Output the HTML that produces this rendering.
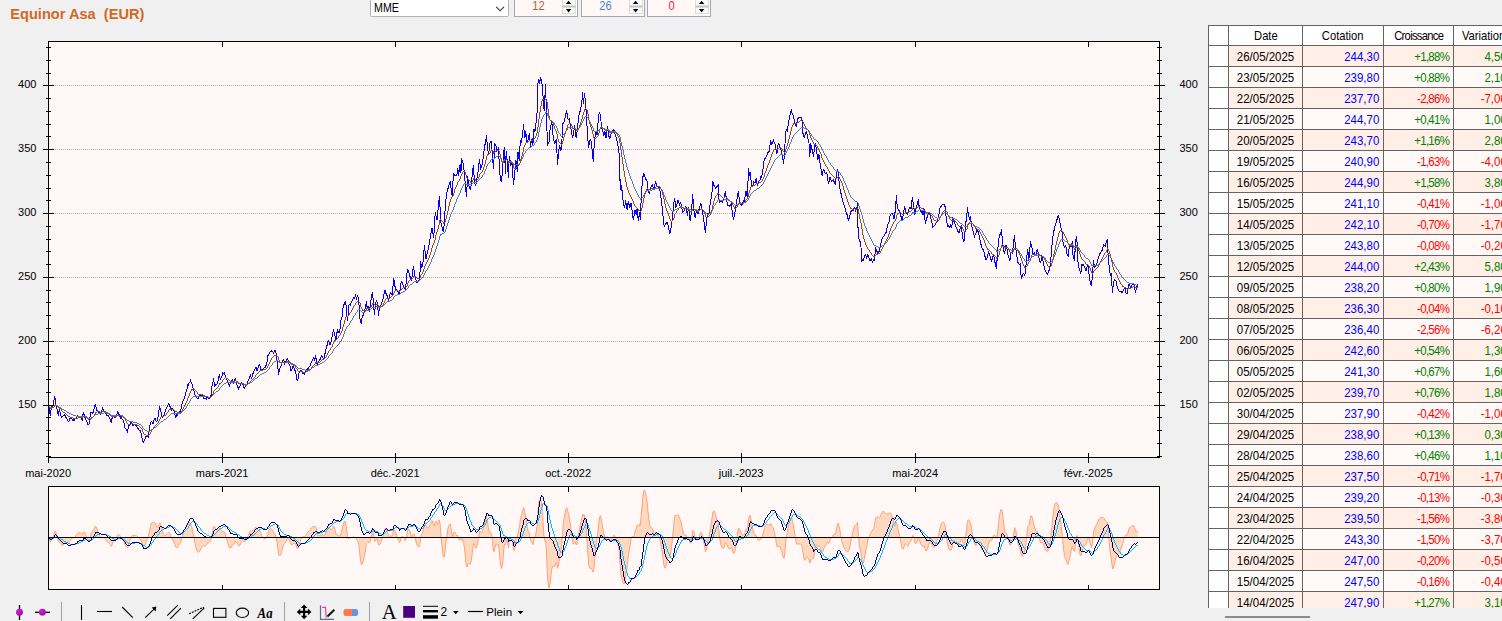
<!DOCTYPE html>
<html><head><meta charset="utf-8"><title>Equinor Asa</title>
<style>
html,body{margin:0;padding:0}
body{width:1502px;height:621px;overflow:hidden;background:#F0F0F0;position:relative;font-family:"Liberation Sans",sans-serif;font-size:12px;color:#000}
#title{position:absolute;left:10.3px;top:6.2px;font-weight:bold;font-size:14.6px;color:#D2691E;white-space:pre;line-height:16px}
#combo{position:absolute;left:370px;top:-4px;width:139px;height:21px;border-radius:1.5px;background:#fff;border:1px solid #B4B4B4;box-sizing:border-box}
#combo span{position:absolute;left:2.5px;top:3.5px;line-height:14px;font-size:12.4px;transform:scaleX(0.86);transform-origin:left center}
.spin{position:absolute;top:-5px;width:64px;height:22px;box-sizing:border-box;border:1px solid #A3A7B4;background:#FFF8F6}
.spin .val{position:absolute;left:0;top:3px;width:47px;text-align:center;font-size:13px;line-height:14px;transform:scaleX(0.86)}
.spin .btn{position:absolute;left:47px;width:13.5px;background:#FAFAFA;border:1px solid #DCDCDC;box-sizing:border-box}
.spin .bar{position:absolute;left:47px;width:13.5px;top:10px;height:1.3px;background:#C6C6C6}
#grid{position:absolute;left:1208px;top:25px;width:294px;height:583px;overflow:hidden;border-left:1px solid #646464;border-top:1px solid #646464;box-sizing:border-box;background:#fff}
.r{display:flex;height:21px;width:320px}
.c{box-sizing:border-box;height:21px;border-right:1px solid #646464;border-bottom:1px solid #646464;font-size:12.2px;line-height:14px;padding-top:3.5px;white-space:nowrap;overflow:hidden}
.c span{display:inline-block;transform:scaleX(0.94);transform-origin:center}
.q span,.g span,.v span{transform-origin:right center}
.h .c span{transform-origin:center;transform:scaleX(0.92)}
.h .c{background:#fff;text-align:center;height:20px;padding-top:2.5px}
.r.h{height:20px}
.rh{width:20px;background:#fff !important}
.d{width:74px;text-align:center}
.q{width:81px;text-align:right;padding-right:4px;color:#0000FF}
.g{width:70px;text-align:right;padding-right:4px;letter-spacing:-0.75px}
.v{width:61px;text-align:right;padding-right:7.5px}
.h .c.hc{text-align:center;padding-right:0;color:#000}
.o .c{background:#FFEFE7}
.e .c{background:#FFFAF8}
.gr{color:#008000}.rd{color:#FF0000}
#hsb{position:absolute;left:1225px;top:616px;width:85px;height:2px;background:#8B8B8B}
</style></head><body>
<svg width="1502" height="621" viewBox="0 0 1502 621" style="position:absolute;left:0;top:0">
<rect x="48.5" y="41.5" width="1111.0" height="416.0" fill="#FFF8F6"/>
<rect x="48.5" y="486.5" width="1111.0" height="103.0" fill="#FFF8F6"/>
<line x1="55" y1="85.5" x2="1152" y2="85.5" stroke="#A8A8A8" stroke-width="1" stroke-dasharray="1 1"/>
<line x1="55" y1="149.5" x2="1152" y2="149.5" stroke="#A8A8A8" stroke-width="1" stroke-dasharray="1 1"/>
<line x1="55" y1="213.5" x2="1152" y2="213.5" stroke="#A8A8A8" stroke-width="1" stroke-dasharray="1 1"/>
<line x1="55" y1="277.5" x2="1152" y2="277.5" stroke="#A8A8A8" stroke-width="1" stroke-dasharray="1 1"/>
<line x1="55" y1="341.5" x2="1152" y2="341.5" stroke="#A8A8A8" stroke-width="1" stroke-dasharray="1 1"/>
<line x1="55" y1="405.5" x2="1152" y2="405.5" stroke="#A8A8A8" stroke-width="1" stroke-dasharray="1 1"/>
<clipPath id="c1"><rect x="48.5" y="41.5" width="1111.0" height="416.0"/></clipPath>
<g clip-path="url(#c1)" fill="none" stroke-linejoin="miter" stroke-miterlimit="3" shape-rendering="crispEdges">
<path d="M48.8,406.5 L49.6,412.3 L50.4,415.5 L51.3,407.1 L52.0,406.5 L52.6,405.9 L53.3,405.9 L54.4,396.3 L55.1,398.3 L55.8,404.2 L56.9,408.2 L57.6,411.8 L58.4,415.5 L59.2,409.3 L59.9,411.7 L60.7,414.2 L61.4,417.2 L62.2,416.7 L62.9,416.0 L63.7,415.0 L64.4,414.9 L65.2,415.8 L65.9,417.2 L66.7,418.2 L67.4,420.4 L68.2,421.2 L69.0,420.9 L69.9,418.8 L70.7,418.2 L71.6,418.3 L72.3,419.5 L73.0,420.6 L73.7,420.0 L74.4,420.6 L75.2,418.8 L76.1,418.9 L76.9,416.6 L77.8,415.5 L78.5,416.5 L79.2,417.5 L79.9,417.3 L80.6,417.2 L81.4,418.7 L82.3,420.0 L83.4,411.6 L84.3,415.5 L85.1,418.3 L85.8,419.4 L86.5,421.3 L87.2,422.6 L87.9,424.5 L89.0,424.0 L89.9,418.2 L90.7,412.7 L91.5,412.5 L92.2,412.9 L93.0,413.3 L93.7,410.0 L94.5,407.3 L95.3,404.2 L96.1,407.4 L96.9,410.4 L97.6,411.2 L98.4,412.6 L99.1,411.0 L99.8,412.7 L100.6,414.2 L101.5,413.8 L102.4,407.6 L103.0,409.4 L103.7,411.6 L104.5,411.4 L105.3,413.0 L106.1,414.0 L106.9,415.5 L107.7,415.5 L108.4,415.7 L109.2,417.6 L109.9,418.3 L110.6,421.0 L111.3,423.4 L112.0,418.5 L112.7,416.1 L113.5,415.8 L114.2,417.7 L115.0,417.8 L115.7,416.7 L116.4,415.5 L117.1,413.5 L117.8,411.6 L118.6,413.6 L119.3,415.0 L120.1,416.6 L120.8,418.4 L121.5,417.7 L122.2,419.1 L122.9,420.0 L123.6,422.6 L124.3,423.4 L125.0,427.8 L125.7,429.0 L126.5,429.6 L127.4,431.3 L128.2,427.9 L129.1,424.5 L129.8,425.4 L130.6,422.4 L131.3,422.3 L132.1,423.0 L132.8,425.7 L133.6,425.7 L134.3,424.7 L135.1,425.0 L135.8,425.1 L136.6,426.6 L137.3,427.7 L138.1,428.5 L138.8,429.7 L139.6,430.3 L140.4,430.7 L141.5,435.3 L142.6,442.0 L143.5,442.2 L144.3,440.3 L145.1,439.1 L146.0,436.4 L146.7,437.0 L147.5,436.2 L148.2,436.9 L149.1,430.5 L149.9,425.1 L150.8,422.0 L151.6,421.7 L152.5,423.1 L153.3,423.4 L154.2,419.5 L155.0,418.3 L155.9,420.7 L156.7,421.7 L157.5,419.7 L158.4,415.0 L159.5,406.5 L160.4,408.8 L161.2,412.7 L162.3,417.2 L163.2,415.6 L164.0,415.0 L164.7,412.6 L165.4,411.6 L166.1,408.4 L166.8,407.1 L167.7,405.3 L168.5,403.7 L169.3,404.8 L170.0,406.5 L170.8,408.2 L171.5,409.6 L172.2,408.3 L172.9,409.5 L173.6,409.9 L174.4,412.5 L175.1,415.4 L175.9,417.2 L176.6,414.8 L177.4,415.0 L178.1,412.7 L178.9,412.5 L179.6,412.2 L180.4,411.0 L181.1,408.4 L181.8,404.4 L182.5,402.5 L183.2,400.3 L184.0,399.0 L184.7,396.6 L185.5,394.7 L186.2,391.2 L187.0,389.2 L187.7,384.5 L188.4,385.2 L189.1,382.5 L189.8,383.0 L190.5,380.6 L191.7,383.0 L192.5,384.9 L193.4,389.8 L194.2,391.0 L195.1,395.4 L195.8,396.9 L196.5,396.9 L197.2,398.4 L197.9,398.8 L198.7,397.8 L199.6,396.0 L200.3,395.5 L201.1,395.7 L201.8,394.8 L202.6,396.3 L203.3,396.3 L204.1,398.8 L204.8,398.7 L205.5,398.4 L206.2,399.3 L206.9,397.7 L207.7,397.2 L208.4,398.4 L209.2,398.8 L209.9,397.1 L210.7,396.1 L211.4,394.8 L212.0,386.4 L212.7,383.7 L213.5,378.5 L214.1,382.4 L214.8,385.8 L215.6,384.9 L216.3,384.8 L217.1,384.1 L217.9,381.5 L218.7,377.0 L219.5,374.5 L220.4,380.2 L221.2,377.5 L221.9,376.4 L222.7,372.8 L223.5,373.4 L224.4,372.6 L225.2,375.5 L226.1,378.5 L226.8,379.6 L227.6,381.4 L228.3,383.0 L229.5,386.4 L230.2,383.5 L230.9,383.7 L231.6,381.6 L232.3,379.6 L233.4,383.0 L234.3,380.8 L235.1,378.5 L235.9,380.3 L236.8,384.1 L237.6,386.1 L238.5,389.2 L239.2,387.9 L239.9,386.0 L240.6,383.8 L241.3,382.4 L242.1,384.2 L243.0,385.3 L243.8,387.4 L244.7,388.1 L245.4,386.4 L246.1,385.4 L246.8,384.0 L247.5,383.6 L248.2,380.4 L248.9,379.6 L249.6,377.2 L250.3,374.5 L251.5,378.5 L252.2,376.7 L253.0,373.5 L253.7,372.3 L254.5,369.8 L255.2,368.8 L256.0,367.2 L257.1,371.2 L257.8,368.6 L258.6,366.7 L259.3,364.4 L260.2,366.4 L261.0,369.5 L261.9,369.4 L262.7,369.7 L263.6,368.9 L264.4,367.2 L265.2,367.7 L265.9,365.8 L266.7,365.0 L267.8,355.9 L268.6,355.3 L269.3,353.0 L270.1,352.0 L270.9,351.9 L271.7,350.5 L272.6,351.5 L273.4,353.1 L274.3,351.5 L275.1,350.5 L276.3,354.2 L277.4,362.7 L278.5,374.5 L279.4,370.4 L280.2,367.2 L281.0,365.8 L281.8,363.6 L282.6,361.6 L283.4,359.5 L284.0,360.8 L284.7,363.8 L285.6,362.0 L286.4,359.9 L287.3,359.0 L288.1,360.2 L288.9,363.7 L289.8,365.0 L290.9,371.2 L291.7,369.4 L292.4,367.9 L293.2,366.1 L293.9,368.1 L294.7,369.0 L295.4,372.3 L296.1,374.3 L296.7,378.3 L297.3,381.3 L298.1,378.8 L298.8,374.0 L299.6,371.8 L300.3,370.8 L301.1,370.0 L301.9,371.7 L302.8,373.4 L303.6,373.0 L304.4,375.1 L305.3,371.6 L306.1,370.6 L306.9,369.5 L307.6,369.1 L308.4,368.3 L309.1,366.6 L309.8,366.7 L310.5,364.0 L311.2,362.7 L312.0,361.3 L312.7,360.5 L313.5,357.6 L314.6,360.4 L315.7,355.4 L316.6,362.0 L317.4,366.1 L318.2,362.6 L318.9,361.3 L319.7,359.3 L320.4,359.1 L321.2,356.0 L321.9,355.9 L322.8,357.2 L323.6,359.9 L324.5,355.2 L325.3,352.6 L326.0,349.0 L326.6,346.6 L327.3,344.9 L328.2,340.5 L329.0,342.3 L329.9,344.9 L330.8,343.1 L331.7,337.8 L332.6,334.3 L333.5,329.0 L334.4,333.4 L335.2,336.9 L335.9,340.9 L336.6,334.3 L337.5,330.3 L338.3,331.6 L339.2,332.5 L340.1,329.0 L340.6,322.8 L341.4,318.3 L342.1,316.6 L342.8,309.5 L343.7,305.1 L344.5,303.3 L345.3,302.0 L345.9,303.3 L346.5,313.0 L347.4,320.6 L348.1,315.7 L348.8,305.5 L349.7,304.2 L350.6,305.9 L351.2,302.4 L352.1,301.1 L353.0,298.9 L353.8,297.1 L354.7,298.9 L355.6,294.0 L356.5,299.7 L357.4,295.3 L358.3,298.0 L358.9,302.4 L359.6,316.6 L360.3,320.1 L361.4,323.7 L362.3,315.7 L363.1,315.2 L364.0,312.1 L364.9,309.5 L365.8,305.1 L366.5,301.1 L367.1,307.7 L368.0,305.9 L369.2,312.1 L370.2,305.9 L371.1,298.9 L371.8,294.0 L372.4,293.1 L373.1,298.9 L373.8,307.7 L374.5,314.8 L375.4,305.1 L376.3,300.2 L377.1,302.4 L377.8,307.7 L378.5,315.7 L379.1,310.4 L380.0,306.8 L380.9,305.1 L381.5,303.4 L382.2,301.5 L383.1,298.9 L384.0,294.4 L384.8,290.0 L385.1,290.0 L385.9,293.2 L386.8,294.5 L387.6,298.2 L388.5,299.6 L389.2,297.4 L390.0,293.6 L390.7,292.8 L391.6,294.2 L392.4,295.7 L393.6,277.6 L394.4,282.7 L395.3,288.3 L396.0,289.5 L396.8,290.1 L397.5,291.2 L398.4,291.8 L399.2,295.1 L399.9,290.9 L400.7,284.5 L401.5,281.6 L402.2,282.6 L403.0,284.8 L403.7,286.1 L404.6,287.8 L405.4,288.9 L406.1,283.3 L406.9,273.6 L407.7,268.6 L408.5,271.7 L409.3,274.2 L410.1,276.8 L410.8,278.1 L411.6,280.4 L412.4,273.9 L413.3,266.3 L414.1,270.6 L415.0,276.5 L415.8,279.8 L416.7,282.1 L417.4,282.1 L418.1,280.6 L418.8,280.4 L419.5,280.4 L420.6,261.3 L421.7,268.0 L422.6,264.0 L423.4,260.1 L424.0,250.0 L424.2,244.6 L424.8,248.8 L425.4,254.8 L426.0,258.8 L426.8,255.0 L427.6,252.0 L428.5,248.0 L429.3,243.3 L430.2,238.2 L431.0,232.9 L431.9,227.9 L432.5,230.6 L433.1,234.1 L433.7,238.2 L434.5,224.7 L435.2,212.4 L435.8,215.2 L436.4,216.9 L437.0,220.1 L437.8,212.0 L438.6,204.0 L439.4,195.7 L440.1,208.8 L440.9,222.7 L441.8,225.6 L442.6,229.8 L443.5,231.7 L444.2,224.1 L444.8,213.5 L445.5,205.2 L446.2,196.5 L447.3,190.9 L448.2,187.8 L449.0,185.3 L449.7,183.1 L450.4,181.3 L451.1,189.2 L451.8,194.8 L452.4,196.5 L453.3,173.4 L453.9,174.5 L454.6,175.5 L455.2,175.1 L456.1,176.2 L456.9,174.5 L457.8,168.3 L458.6,176.2 L459.3,170.0 L460.1,164.4 L460.9,172.8 L461.6,158.2 L462.4,160.9 L463.1,163.8 L464.2,171.7 L465.4,185.3 L466.5,196.5 L467.6,176.2 L468.8,185.3 L469.6,187.5 L470.4,189.8 L471.3,183.8 L472.1,176.2 L473.3,165.5 L474.4,180.7 L475.5,186.4 L476.4,181.8 L477.2,177.4 L478.3,169.5 L479.5,159.3 L480.6,169.5 L481.4,167.1 L482.3,163.8 L483.4,155.9 L484.5,146.9 L485.7,141.3 L486.5,135.1 L487.4,146.9 L488.5,154.8 L489.3,148.9 L490.2,141.3 L491.3,141.3 L492.4,156.5 L493.6,168.9 L494.7,143.5 L495.8,144.7 L496.9,151.4 L497.7,150.0 L498.4,146.9 L499.2,162.7 L500.0,175.1 L500.1,177.7 L500.7,180.4 L501.4,182.4 L502.3,173.1 L503.4,155.1 L504.5,146.6 L505.4,174.3 L506.2,150.6 L507.0,158.5 L507.7,167.5 L508.5,177.7 L509.2,156.2 L510.0,160.1 L510.7,166.4 L511.8,161.9 L512.7,173.1 L513.5,185.2 L514.4,176.5 L515.1,168.9 L515.8,159.6 L516.6,165.9 L517.5,171.5 L518.0,152.3 L519.2,160.7 L520.3,140.4 L521.4,142.7 L522.6,134.2 L523.5,124.4 L524.1,130.6 L524.8,138.2 L525.7,131.4 L526.4,136.7 L527.1,142.7 L528.2,139.3 L528.9,135.6 L529.5,132.6 L530.4,147.2 L531.3,141.4 L532.1,138.2 L532.9,145.0 L533.8,128.6 L535.0,131.4 L536.1,122.4 L537.2,111.1 L537.4,84.6 L538.2,82.3 L538.9,79.6 L539.5,83.5 L540.6,77.3 L541.7,80.7 L542.8,92.5 L543.4,103.8 L544.2,110.6 L544.9,98.2 L545.4,84.1 L546.0,98.2 L546.5,112.8 L547.4,145.5 L548.2,143.5 L549.0,142.7 L550.2,128.0 L551.0,125.0 L551.9,122.4 L553.0,134.8 L553.8,139.9 L554.7,143.8 L555.5,141.5 L556.4,139.3 L557.5,164.7 L558.6,152.8 L559.5,145.0 L560.2,148.2 L560.9,150.6 L561.8,143.8 L562.6,123.5 L563.4,123.0 L564.3,121.8 L565.0,117.9 L565.8,114.0 L566.5,110.0 L567.4,116.2 L568.2,119.6 L569.3,118.5 L570.2,123.7 L571.0,129.2 L571.9,134.9 L572.7,138.2 L573.9,131.4 L574.6,125.2 L575.4,131.0 L576.1,138.2 L577.2,130.9 L577.8,125.8 L578.4,116.8 L579.2,114.5 L580.1,111.1 L580.9,107.6 L581.7,103.8 L582.6,92.2 L583.4,103.8 L584.6,93.1 L585.7,104.9 L586.6,118.5 L587.4,132.6 L588.5,148.3 L589.6,140.4 L590.8,139.3 L591.9,148.3 L592.6,154.6 L593.4,161.9 L594.0,148.6 L594.7,139.3 L595.8,131.4 L596.5,134.0 L597.2,134.2 L597.9,124.7 L598.5,117.6 L599.2,112.3 L600.4,114.5 L601.5,126.9 L602.6,130.3 L603.7,135.9 L604.9,131.4 L606.0,138.2 L606.7,131.5 L607.3,126.3 L608.2,132.6 L608.9,136.0 L609.6,139.3 L610.3,136.5 L611.1,133.7 L611.9,132.5 L612.8,130.9 L613.9,129.2 L614.7,132.4 L615.6,135.9 L616.4,138.2 L617.3,142.7 L618.4,147.2 L619.5,157.4 L619.7,179.9 L620.1,179.7 L620.9,189.8 L621.6,185.3 L622.6,197.7 L623.7,204.5 L624.6,208.4 L625.7,200.5 L626.4,205.7 L627.1,209.5 L628.2,201.1 L628.9,203.8 L629.5,207.8 L630.3,205.8 L631.0,203.3 L632.1,210.1 L633.3,220.3 L634.1,215.6 L635.0,210.1 L636.1,214.6 L637.2,207.8 L638.3,221.4 L639.5,212.4 L640.4,220.3 L641.2,197.7 L642.3,181.9 L643.4,173.5 L644.5,175.1 L645.7,179.7 L646.8,179.1 L647.9,189.8 L648.8,192.4 L649.6,193.2 L650.5,189.1 L651.3,185.3 L652.4,184.7 L653.6,189.8 L654.7,186.4 L655.5,181.3 L656.2,183.4 L656.9,185.9 L657.8,186.2 L658.6,187.0 L659.5,188.1 L660.3,192.1 L661.5,202.2 L662.6,210.1 L663.4,221.4 L664.3,227.0 L665.1,224.8 L666.0,223.6 L666.7,222.3 L667.4,222.5 L668.1,225.0 L668.8,229.3 L669.9,233.8 L670.6,230.0 L671.3,225.9 L672.2,219.1 L673.3,209.0 L674.4,197.7 L675.1,202.0 L675.8,206.7 L676.4,205.8 L677.1,203.7 L677.8,200.5 L678.6,201.1 L679.5,204.5 L680.6,202.2 L681.7,207.8 L682.9,212.4 L683.7,211.3 L684.6,210.1 L685.2,207.7 L685.9,206.7 L686.7,211.6 L687.4,215.7 L688.5,206.7 L689.4,214.2 L690.2,221.4 L690.9,216.4 L691.6,210.1 L692.7,194.3 L693.8,210.1 L694.5,214.3 L695.3,218.0 L696.4,210.1 L697.3,212.4 L698.1,213.5 L698.9,209.9 L699.8,206.7 L700.5,203.7 L701.3,204.5 L702.4,212.4 L703.1,215.4 L703.7,220.3 L704.6,226.1 L705.4,233.2 L706.6,219.1 L707.7,213.5 L708.8,214.6 L709.9,205.6 L711.1,198.8 L711.9,194.3 L712.5,181.3 L713.2,183.0 L713.9,185.3 L714.7,185.9 L715.6,188.1 L716.7,186.4 L717.4,186.5 L718.2,184.2 L718.6,196.6 L719.5,202.2 L720.4,201.5 L721.2,201.1 L722.3,202.2 L723.2,200.9 L724.0,197.7 L724.7,194.3 L725.4,191.5 L726.3,197.7 L727.1,202.9 L728.0,205.6 L728.8,205.0 L729.7,206.2 L730.5,205.2 L731.4,203.3 L732.5,214.6 L733.6,219.7 L734.7,213.5 L735.9,206.7 L737.0,198.8 L737.7,194.2 L738.5,191.5 L739.3,200.0 L740.1,202.5 L740.9,204.5 L741.8,205.1 L742.6,203.3 L743.5,201.0 L744.3,201.1 L745.2,195.6 L746.0,191.5 L747.1,196.6 L747.9,183.0 L748.6,168.4 L749.4,176.3 L750.2,172.3 L751.1,180.8 L752.2,187.0 L753.1,184.6 L753.9,181.9 L755.0,183.0 L756.2,178.0 L757.3,185.9 L758.4,181.9 L759.2,180.6 L760.0,179.7 L760.7,177.0 L761.3,177.4 L762.0,174.9 L763.1,168.1 L764.2,159.1 L765.1,158.3 L765.9,157.4 L766.8,155.9 L767.6,152.4 L768.5,152.0 L769.3,151.2 L770.4,141.1 L771.1,141.9 L771.8,144.5 L772.5,142.0 L773.3,140.2 L774.0,142.2 L774.7,142.2 L775.9,150.1 L777.0,153.5 L777.7,147.4 L778.3,143.3 L779.0,144.1 L779.7,145.6 L780.4,148.3 L781.2,150.1 L781.9,154.2 L782.6,156.9 L783.4,163.6 L784.5,155.7 L785.4,134.3 L786.5,128.7 L787.4,132.1 L788.5,121.9 L789.3,118.6 L790.2,114.0 L790.9,110.9 L791.6,110.1 L792.3,114.2 L793.0,115.1 L793.8,118.4 L794.7,121.9 L795.5,124.2 L796.4,126.4 L797.5,118.5 L798.4,118.0 L799.2,117.4 L800.0,117.1 L800.9,117.2 L802.0,119.7 L802.9,133.2 L803.6,135.0 L804.3,138.3 L805.4,133.2 L806.5,130.9 L807.7,137.7 L808.3,140.3 L809.0,143.3 L809.7,156.9 L810.8,143.3 L811.5,147.7 L812.2,150.1 L812.8,152.7 L813.5,157.4 L814.4,147.8 L815.5,142.8 L816.7,152.4 L817.8,159.7 L818.9,154.6 L820.1,163.6 L821.2,170.4 L821.3,171.8 L822.3,176.3 L823.0,171.1 L823.7,169.5 L824.5,171.9 L825.4,173.5 L826.1,173.1 L826.8,172.3 L827.6,178.5 L828.4,183.6 L829.1,181.8 L829.9,177.4 L830.7,178.8 L831.6,181.3 L832.4,180.6 L833.3,179.7 L834.0,181.5 L834.8,183.6 L835.5,184.2 L836.6,174.0 L837.8,168.9 L838.9,179.7 L840.0,188.7 L841.2,194.3 L842.3,198.8 L843.4,203.3 L844.5,206.2 L845.4,210.0 L846.2,212.4 L847.0,214.5 L847.7,217.0 L848.5,220.8 L849.3,217.5 L850.2,214.6 L851.0,211.4 L851.9,210.7 L852.7,210.9 L853.6,209.5 L854.7,206.7 L855.8,210.7 L856.9,208.4 L857.7,201.6 L857.8,209.5 L858.1,235.4 L858.8,238.0 L859.5,241.1 L860.1,241.1 L860.8,241.6 L861.5,260.8 L862.2,259.9 L862.8,260.3 L863.5,260.0 L864.2,257.4 L865.3,254.0 L866.1,256.2 L866.8,258.0 L867.9,254.6 L868.8,257.1 L869.6,260.3 L870.5,260.1 L871.3,259.1 L872.4,262.5 L873.2,260.7 L873.9,259.1 L874.7,260.3 L875.3,247.3 L876.1,249.7 L876.9,251.2 L877.8,253.1 L878.6,252.9 L879.8,249.0 L880.9,243.3 L881.7,240.0 L882.6,237.1 L883.3,236.6 L884.1,235.6 L884.8,234.3 L885.7,233.5 L886.5,230.9 L887.7,224.2 L888.3,223.5 L889.0,221.9 L889.6,216.3 L890.5,214.9 L891.3,213.5 L892.2,213.8 L893.0,215.2 L894.2,219.1 L895.3,210.1 L896.4,195.4 L897.2,206.7 L897.9,208.6 L898.7,210.1 L899.5,211.0 L900.4,213.5 L901.2,217.4 L902.0,220.3 L902.8,216.9 L903.5,213.5 L904.6,206.2 L905.3,209.7 L906.0,212.4 L906.8,213.4 L907.7,215.2 L908.5,210.6 L909.4,207.3 L910.2,207.4 L911.1,209.0 L911.7,203.6 L912.4,196.6 L913.3,204.5 L914.1,209.4 L914.8,214.6 L915.5,211.1 L916.1,207.8 L917.3,204.5 L918.4,199.4 L919.3,208.4 L919.9,208.4 L920.6,211.0 L921.2,212.4 L922.1,211.2 L922.9,215.2 L924.0,208.4 L924.7,217.0 L925.4,223.6 L926.1,220.6 L926.8,218.0 L927.7,216.0 L928.5,214.0 L929.4,213.3 L930.2,214.6 L931.4,221.4 L932.1,223.4 L932.8,227.0 L933.5,226.9 L934.1,225.7 L934.7,225.3 L935.6,224.2 L936.4,222.5 L937.3,221.2 L938.1,218.0 L939.0,214.0 L939.8,209.0 L940.7,206.1 L941.5,206.2 L942.2,205.0 L942.9,204.5 L943.6,204.2 L944.3,204.5 L945.5,207.8 L946.4,222.5 L947.0,222.9 L947.7,226.5 L948.6,225.5 L949.4,227.6 L950.5,225.3 L951.7,228.1 L952.8,216.9 L953.9,221.4 L954.8,223.1 L955.6,225.9 L956.4,227.4 L957.3,229.8 L958.1,231.6 L959.0,232.7 L960.0,229.2 L961.1,225.3 L961.8,230.1 L962.5,235.4 L963.6,242.2 L964.7,237.7 L965.6,221.9 L966.5,220.8 L967.4,207.3 L968.5,215.1 L969.6,219.7 L970.4,216.3 L971.5,224.2 L972.2,228.6 L973.0,230.9 L973.7,232.9 L974.4,237.7 L975.1,235.0 L975.8,234.3 L976.9,229.2 L977.6,230.8 L978.3,232.1 L979.0,235.2 L979.7,238.8 L980.6,242.0 L981.4,246.7 L982.1,248.2 L982.8,249.4 L983.5,249.5 L984.6,254.6 L985.7,259.7 L986.4,259.5 L987.1,257.4 L987.7,254.6 L988.4,252.4 L989.1,253.8 L989.9,255.2 L990.7,258.4 L991.6,261.4 L992.4,258.3 L993.3,255.2 L994.4,258.0 L995.0,262.5 L995.7,265.1 L996.3,269.3 L997.4,255.7 L998.3,243.3 L999.5,234.9 L1000.6,234.3 L1001.5,229.2 L1002.6,243.3 L1003.7,250.1 L1004.5,254.0 L1005.3,250.1 L1006.0,245.6 L1006.7,246.8 L1007.4,251.2 L1008.0,254.6 L1008.7,256.9 L1009.4,259.9 L1010.0,260.4 L1011.1,252.6 L1011.8,253.1 L1012.5,253.7 L1013.6,242.4 L1014.5,235.1 L1015.4,246.9 L1016.5,252.6 L1017.2,258.4 L1017.9,262.7 L1018.6,262.6 L1019.2,265.0 L1020.1,263.8 L1021.3,278.5 L1022.0,276.8 L1022.6,275.7 L1023.5,272.8 L1024.7,276.2 L1025.8,267.2 L1026.9,255.9 L1027.8,249.2 L1028.6,261.0 L1029.4,254.8 L1030.5,241.3 L1031.6,246.9 L1032.4,249.4 L1033.1,254.2 L1033.8,253.9 L1034.6,253.1 L1035.3,254.4 L1035.9,254.8 L1036.7,251.0 L1037.4,249.2 L1038.1,252.5 L1038.8,257.1 L1039.6,259.7 L1040.4,263.3 L1041.1,261.1 L1041.8,255.4 L1042.5,259.0 L1043.3,262.7 L1044.1,266.5 L1045.0,270.0 L1045.7,271.8 L1046.5,273.3 L1047.2,274.5 L1048.0,273.0 L1048.7,270.9 L1049.5,270.6 L1050.6,261.6 L1051.5,251.4 L1052.6,237.9 L1053.7,232.3 L1054.5,227.6 L1055.2,224.8 L1055.8,223.0 L1056.5,222.0 L1057.2,218.5 L1058.4,215.1 L1059.5,220.8 L1060.6,226.4 L1061.3,229.4 L1062.0,232.1 L1062.1,232.3 L1063.0,242.4 L1063.8,244.9 L1064.7,248.0 L1065.8,244.7 L1066.9,253.7 L1068.1,256.5 L1069.2,248.0 L1070.0,246.5 L1070.9,246.9 L1071.6,244.1 L1072.4,241.3 L1073.1,257.1 L1073.8,258.8 L1074.5,260.4 L1075.4,244.7 L1076.3,236.2 L1077.4,244.7 L1078.2,267.2 L1078.9,267.8 L1079.7,269.5 L1080.8,273.4 L1081.9,263.8 L1082.6,265.1 L1083.3,265.0 L1084.1,266.2 L1085.0,268.3 L1085.8,271.2 L1086.5,268.8 L1087.2,266.6 L1088.1,265.0 L1088.9,272.8 L1089.6,278.6 L1090.3,283.0 L1091.4,286.4 L1092.5,275.1 L1093.4,260.4 L1094.6,267.2 L1095.4,266.2 L1096.3,265.0 L1097.0,263.5 L1097.7,260.4 L1098.4,257.7 L1099.1,255.4 L1100.2,253.1 L1101.1,251.7 L1101.9,250.9 L1102.7,248.1 L1103.6,244.7 L1104.4,245.7 L1105.3,246.3 L1106.4,241.3 L1107.5,239.6 L1108.1,254.8 L1109.2,267.2 L1110.4,275.7 L1111.3,274.5 L1112.4,292.6 L1113.2,284.7 L1114.3,279.6 L1115.0,280.8 L1115.8,280.2 L1116.4,283.6 L1117.1,286.4 L1117.8,288.3 L1118.5,290.3 L1119.1,291.2 L1119.7,291.9 L1120.3,292.0 L1121.1,291.5 L1121.9,292.6 L1122.6,291.6 L1123.3,290.9 L1124.1,288.7 L1124.8,286.9 L1125.5,290.9 L1126.1,293.1 L1127.0,294.3 L1128.2,287.5 L1129.0,284.1 L1129.7,285.5 L1130.4,287.5 L1131.1,287.2 L1131.8,285.3 L1132.9,283.6 L1134.0,285.3 L1134.7,288.0 L1135.4,292.6 L1136.5,288.6 L1137.4,284.1 L1138.0,287.5" stroke="#0000FF" stroke-width="1"/>
<path d="M49,406h1v1h-1zM50,407h4v1h-4zM54,406h1v1h-1zM55,405h2v1h-2zM57,406h2v1h-2zM59,407h2v1h-2zM61,408h1v1h-1zM62,409h2v1h-2zM64,410h2v1h-2zM66,411h1v1h-1zM67,412h2v1h-2zM69,413h2v1h-2zM71,414h2v1h-2zM73,415h3v1h-3zM76,416h11v1h-11zM87,417h1v1h-1zM88,418h3v1h-3zM91,417h2v1h-2zM93,416h1v1h-1zM94,415h1v1h-1zM95,414h3v1h-3zM98,413h6v1h-6zM104,412h2v1h-2zM106,413h4v1h-4zM110,414h1v1h-1zM111,415h12v1h-12zM123,416h1v1h-1zM124,417h1v1h-1zM125,418h1v1h-1zM126,419h1v1h-1zM127,420h2v1h-2zM129,421h4v1h-4zM133,422h4v1h-4zM137,423h2v1h-2zM139,424h2v1h-2zM141,425h1v1h-1zM142,426h1v2h-1zM143,428h1v1h-1zM144,429h1v1h-1zM145,430h2v1h-2zM147,431h3v1h-3zM150,430h1v1h-1zM151,429h2v1h-2zM153,428h1v1h-1zM154,427h2v1h-2zM156,426h1v1h-1zM157,425h1v1h-1zM158,424h1v1h-1zM159,423h1v1h-1zM160,422h1v1h-1zM161,421h2v1h-2zM163,420h1v1h-1zM164,419h2v1h-2zM166,418h1v1h-1zM167,417h1v1h-1zM168,416h1v1h-1zM169,415h1v1h-1zM170,414h1v1h-1zM171,413h10v1h-10zM181,412h1v1h-1zM182,411h1v1h-1zM183,410h1v1h-1zM184,409h1v1h-1zM185,408h1v1h-1zM186,406h1v2h-1zM187,404h1v2h-1zM188,403h1v1h-1zM189,401h1v2h-1zM190,399h1v2h-1zM191,398h1v1h-1zM192,397h1v1h-1zM193,396h15v1h-15zM208,397h3v1h-3zM211,396h1v1h-1zM212,395h1v1h-1zM213,394h1v1h-1zM214,393h1v1h-1zM215,392h1v1h-1zM216,391h2v1h-2zM218,390h1v1h-1zM219,388h1v2h-1zM220,387h1v1h-1zM221,386h1v1h-1zM222,385h1v1h-1zM223,384h1v1h-1zM224,383h2v1h-2zM226,382h13v1h-13zM239,383h5v1h-5zM244,384h4v1h-4zM248,383h2v1h-2zM250,382h2v1h-2zM252,381h1v1h-1zM253,380h1v1h-1zM254,379h1v1h-1zM255,378h2v1h-2zM257,377h1v1h-1zM258,376h1v1h-1zM259,375h1v1h-1zM260,374h2v1h-2zM262,373h2v1h-2zM264,372h2v1h-2zM266,371h1v1h-1zM267,370h1v1h-1zM268,369h1v1h-1zM269,367h1v2h-1zM270,366h1v1h-1zM271,365h1v1h-1zM272,363h1v2h-1zM273,362h1v1h-1zM274,361h2v1h-2zM276,360h2v1h-2zM278,361h1v1h-1zM279,362h2v1h-2zM281,363h1v1h-1zM282,362h9v1h-9zM291,363h2v1h-2zM293,364h2v1h-2zM295,365h1v1h-1zM296,366h1v1h-1zM297,367h1v1h-1zM298,368h4v1h-4zM302,369h3v1h-3zM305,370h3v1h-3zM308,369h3v1h-3zM311,368h1v1h-1zM312,367h2v1h-2zM314,366h1v1h-1zM315,365h3v1h-3zM318,364h2v1h-2zM320,363h2v1h-2zM322,362h2v1h-2zM324,361h1v1h-1zM325,360h1v1h-1zM326,359h1v1h-1zM327,358h1v1h-1zM328,356h1v2h-1zM329,355h1v1h-1zM330,354h1v1h-1zM331,353h1v1h-1zM332,351h1v2h-1zM333,349h1v2h-1zM334,348h1v1h-1zM335,347h1v1h-1zM336,346h1v1h-1zM337,345h1v1h-1zM338,344h1v1h-1zM339,342h1v2h-1zM340,341h1v1h-1zM341,339h1v2h-1zM342,337h1v2h-1zM343,334h1v3h-1zM344,331h1v3h-1zM345,329h1v2h-1zM346,327h1v2h-1zM347,326h1v1h-1zM348,325h1v1h-1zM349,323h1v2h-1zM350,321h1v2h-1zM351,320h1v1h-1zM352,318h1v2h-1zM353,316h1v2h-1zM354,315h1v1h-1zM355,313h1v2h-1zM356,312h1v1h-1zM357,310h1v2h-1zM358,309h2v1h-2zM360,310h1v1h-1zM361,311h1v1h-1zM362,312h3v1h-3zM365,311h1v1h-1zM366,310h4v1h-4zM370,309h1v1h-1zM371,308h1v1h-1zM372,307h4v1h-4zM376,306h2v1h-2zM378,307h3v1h-3zM381,306h2v1h-2zM383,305h1v1h-1zM384,304h1v1h-1zM385,303h1v1h-1zM386,302h1v1h-1zM387,301h3v1h-3zM390,300h2v1h-2zM392,299h1v1h-1zM393,297h1v2h-1zM394,296h1v1h-1zM395,295h2v1h-2zM397,294h3v1h-3zM400,293h1v1h-1zM401,292h2v1h-2zM403,291h2v1h-2zM405,290h1v1h-1zM406,289h1v1h-1zM407,288h1v1h-1zM408,286h1v2h-1zM409,285h1v1h-1zM410,284h2v1h-2zM412,283h1v1h-1zM413,282h1v1h-1zM414,281h5v1h-5zM419,280h1v1h-1zM420,279h1v1h-1zM421,278h1v1h-1zM422,277h1v1h-1zM423,275h1v2h-1zM424,273h1v2h-1zM425,271h1v2h-1zM426,270h1v1h-1zM427,268h1v2h-1zM428,266h1v2h-1zM429,264h1v2h-1zM430,262h1v2h-1zM431,259h1v3h-1zM432,257h1v2h-1zM433,255h1v2h-1zM434,252h1v3h-1zM435,249h1v3h-1zM436,246h1v3h-1zM437,243h1v3h-1zM438,240h1v3h-1zM439,236h1v4h-1zM440,234h1v2h-1zM441,234h1v1h-1zM442,233h2v1h-2zM444,232h1v1h-1zM445,229h1v3h-1zM446,226h1v3h-1zM447,223h1v3h-1zM448,220h1v3h-1zM449,217h1v3h-1zM450,214h1v3h-1zM451,212h1v2h-1zM452,210h1v2h-1zM453,207h1v3h-1zM454,204h1v3h-1zM455,202h1v2h-1zM456,199h1v3h-1zM457,197h1v2h-1zM458,195h1v2h-1zM459,193h1v2h-1zM460,190h1v3h-1zM461,188h1v2h-1zM462,186h1v2h-1zM463,184h1v2h-1zM464,183h2v1h-2zM466,184h6v1h-6zM472,183h1v1h-1zM473,182h4v1h-4zM477,181h1v1h-1zM478,180h1v1h-1zM479,179h1v1h-1zM480,178h1v1h-1zM481,177h1v1h-1zM482,175h1v2h-1zM483,174h1v1h-1zM484,171h1v3h-1zM485,169h1v2h-1zM486,166h1v3h-1zM487,164h1v2h-1zM488,163h1v1h-1zM489,162h1v1h-1zM490,160h1v2h-1zM491,159h1v1h-1zM492,158h1v1h-1zM493,159h1v1h-1zM494,158h1v1h-1zM495,157h1v1h-1zM496,156h2v1h-2zM498,155h1v1h-1zM499,156h1v1h-1zM500,157h1v2h-1zM501,159h1v2h-1zM502,161h1v1h-1zM503,160h1v1h-1zM504,159h1v1h-1zM505,160h1v1h-1zM506,159h1v1h-1zM507,160h1v1h-1zM508,161h4v1h-4zM512,162h1v1h-1zM513,163h1v1h-1zM514,164h1v1h-1zM515,165h1v1h-1zM516,164h3v1h-3zM519,163h1v1h-1zM520,161h1v2h-1zM521,159h1v2h-1zM522,157h1v2h-1zM523,154h1v3h-1zM524,153h1v1h-1zM525,151h1v2h-1zM526,150h1v1h-1zM527,149h1v1h-1zM528,148h1v1h-1zM529,147h2v1h-2zM531,146h1v1h-1zM532,145h2v1h-2zM534,143h1v2h-1zM535,142h1v1h-1zM536,140h1v2h-1zM537,137h1v3h-1zM538,132h1v5h-1zM539,127h1v5h-1zM540,123h1v4h-1zM541,119h1v4h-1zM542,117h1v2h-1zM543,115h1v2h-1zM544,114h1v1h-1zM545,112h1v2h-1zM546,112h1v1h-1zM547,113h1v3h-1zM548,116h1v2h-1zM549,118h1v2h-1zM550,120h2v1h-2zM552,121h1v1h-1zM553,122h1v1h-1zM554,123h1v2h-1zM555,125h1v1h-1zM556,126h1v2h-1zM557,128h1v3h-1zM558,131h1v2h-1zM559,133h1v1h-1zM560,134h1v2h-1zM561,136h1v1h-1zM562,135h1v1h-1zM563,134h1v1h-1zM564,133h1v1h-1zM565,131h1v2h-1zM566,130h1v1h-1zM567,128h1v2h-1zM568,127h4v1h-4zM572,128h4v1h-4zM576,129h2v1h-2zM578,128h1v1h-1zM579,127h1v1h-1zM580,125h1v2h-1zM581,123h1v2h-1zM582,121h1v2h-1zM583,119h1v2h-1zM584,117h1v2h-1zM585,116h2v1h-2zM587,117h1v1h-1zM588,118h1v2h-1zM589,120h1v2h-1zM590,122h1v2h-1zM591,124h1v2h-1zM592,126h1v2h-1zM593,128h1v3h-1zM594,131h4v1h-4zM598,130h1v1h-1zM599,129h1v1h-1zM600,128h1v1h-1zM601,127h1v1h-1zM602,128h3v1h-3zM605,129h4v1h-4zM609,130h1v1h-1zM610,131h6v1h-6zM616,132h1v1h-1zM617,133h1v1h-1zM618,134h1v1h-1zM619,135h1v2h-1zM620,137h1v5h-1zM621,142h1v4h-1zM622,146h1v4h-1zM623,150h1v5h-1zM624,155h1v4h-1zM625,159h1v4h-1zM626,163h1v4h-1zM627,167h1v3h-1zM628,170h1v3h-1zM629,173h1v3h-1zM630,176h1v3h-1zM631,179h1v2h-1zM632,181h1v3h-1zM633,184h1v3h-1zM634,187h1v2h-1zM635,189h1v2h-1zM636,191h1v2h-1zM637,193h1v2h-1zM638,195h1v2h-1zM639,197h1v1h-1zM640,198h1v2h-1zM641,198h1v1h-1zM642,197h1v1h-1zM643,195h1v2h-1zM644,193h1v2h-1zM645,192h1v1h-1zM646,191h1v1h-1zM647,190h2v1h-2zM649,191h1v1h-1zM650,190h2v1h-2zM652,189h3v1h-3zM655,188h6v1h-6zM661,189h1v1h-1zM662,190h1v2h-1zM663,192h1v3h-1zM664,195h1v2h-1zM665,197h1v3h-1zM666,200h1v2h-1zM667,202h1v2h-1zM668,204h1v2h-1zM669,206h1v2h-1zM670,208h1v2h-1zM671,210h1v1h-1zM672,211h2v1h-2zM674,210h1v1h-1zM675,209h2v1h-2zM677,208h2v1h-2zM679,207h5v1h-5zM684,208h1v1h-1zM685,207h1v1h-1zM686,208h3v1h-3zM689,209h2v1h-2zM691,210h1v1h-1zM692,209h1v1h-1zM693,208h1v1h-1zM694,209h3v1h-3zM697,210h3v1h-3zM700,209h3v1h-3zM703,210h1v1h-1zM704,211h1v1h-1zM705,212h1v2h-1zM706,213h1v1h-1zM707,214h2v1h-2zM709,213h1v1h-1zM710,212h1v1h-1zM711,211h1v1h-1zM712,209h1v2h-1zM713,206h1v3h-1zM714,205h1v1h-1zM715,203h1v2h-1zM716,202h1v1h-1zM717,200h1v2h-1zM718,199h2v1h-2zM720,200h4v1h-4zM724,199h4v1h-4zM728,200h2v1h-2zM730,201h2v1h-2zM732,202h1v1h-1zM733,203h1v1h-1zM734,204h1v1h-1zM735,205h1v1h-1zM736,204h2v1h-2zM738,203h6v1h-6zM744,202h2v1h-2zM746,201h1v1h-1zM747,200h1v1h-1zM748,198h1v2h-1zM749,196h1v2h-1zM750,194h1v2h-1zM751,193h1v1h-1zM752,192h1v1h-1zM753,191h1v1h-1zM754,190h2v1h-2zM756,189h1v1h-1zM757,188h2v1h-2zM759,187h1v1h-1zM760,186h1v1h-1zM761,185h1v1h-1zM762,184h1v1h-1zM763,182h1v2h-1zM764,180h1v2h-1zM765,178h1v2h-1zM766,176h1v2h-1zM767,174h1v2h-1zM768,172h1v2h-1zM769,170h1v2h-1zM770,168h1v2h-1zM771,166h1v2h-1zM772,164h1v2h-1zM773,162h1v2h-1zM774,160h1v2h-1zM775,159h1v1h-1zM776,158h1v1h-1zM777,157h1v1h-1zM778,156h1v1h-1zM779,155h1v1h-1zM780,154h3v1h-3zM783,155h2v1h-2zM785,153h1v2h-1zM786,151h1v2h-1zM787,149h1v2h-1zM788,147h1v2h-1zM789,144h1v3h-1zM790,142h1v2h-1zM791,139h1v3h-1zM792,137h1v2h-1zM793,135h1v2h-1zM794,134h1v1h-1zM795,133h1v1h-1zM796,132h1v1h-1zM797,131h1v1h-1zM798,130h1v1h-1zM799,129h1v1h-1zM800,128h1v1h-1zM801,127h3v1h-3zM804,128h2v1h-2zM806,129h2v1h-2zM808,130h1v1h-1zM809,131h1v2h-1zM810,133h1v1h-1zM811,134h1v2h-1zM812,136h1v1h-1zM813,137h1v2h-1zM814,139h2v1h-2zM816,140h1v1h-1zM817,141h1v1h-1zM818,142h1v2h-1zM819,144h1v1h-1zM820,145h1v2h-1zM821,147h1v2h-1zM822,149h1v2h-1zM823,151h1v2h-1zM824,153h1v2h-1zM825,155h1v1h-1zM826,156h1v2h-1zM827,158h1v2h-1zM828,160h1v2h-1zM829,162h1v1h-1zM830,163h1v2h-1zM831,165h1v1h-1zM832,166h1v1h-1zM833,167h1v2h-1zM834,169h1v1h-1zM835,170h1v1h-1zM836,171h3v1h-3zM839,172h1v1h-1zM840,173h1v2h-1zM841,175h1v1h-1zM842,176h1v2h-1zM843,178h1v3h-1zM844,181h1v2h-1zM845,183h1v2h-1zM846,185h1v3h-1zM847,188h1v2h-1zM848,190h1v3h-1zM849,193h1v2h-1zM850,195h1v2h-1zM851,197h1v1h-1zM852,198h1v1h-1zM853,199h1v1h-1zM854,200h1v1h-1zM855,201h2v1h-2zM857,202h1v1h-1zM858,203h1v3h-1zM859,206h1v3h-1zM860,209h1v3h-1zM861,212h1v3h-1zM862,215h1v4h-1zM863,219h1v4h-1zM864,223h1v3h-1zM865,226h1v2h-1zM866,228h1v3h-1zM867,231h1v2h-1zM868,233h1v2h-1zM869,235h1v2h-1zM870,237h1v2h-1zM871,239h1v2h-1zM872,241h1v2h-1zM873,243h1v2h-1zM874,245h2v1h-2zM876,246h2v1h-2zM878,247h3v1h-3zM881,246h1v1h-1zM882,245h2v1h-2zM884,244h1v1h-1zM885,243h1v1h-1zM886,242h1v1h-1zM887,240h1v2h-1zM888,239h1v1h-1zM889,237h1v2h-1zM890,235h1v2h-1zM891,233h1v2h-1zM892,231h1v2h-1zM893,230h1v1h-1zM894,229h1v1h-1zM895,227h1v2h-1zM896,224h1v3h-1zM897,223h1v1h-1zM898,222h1v1h-1zM899,221h1v1h-1zM900,220h3v1h-3zM903,219h1v1h-1zM904,218h1v1h-1zM905,217h3v1h-3zM908,216h1v1h-1zM909,215h2v1h-2zM911,214h1v1h-1zM912,212h1v2h-1zM913,212h3v1h-3zM916,211h2v1h-2zM918,210h1v1h-1zM919,209h2v1h-2zM921,210h4v1h-4zM925,211h1v1h-1zM926,212h4v1h-4zM930,213h2v1h-2zM932,214h1v1h-1zM933,215h1v1h-1zM934,216h1v1h-1zM935,217h2v1h-2zM937,218h1v1h-1zM938,217h2v1h-2zM940,216h1v1h-1zM941,215h1v1h-1zM942,214h1v1h-1zM943,213h1v1h-1zM944,212h2v1h-2zM946,213h1v1h-1zM947,214h1v1h-1zM948,215h1v1h-1zM949,216h1v1h-1zM950,217h2v1h-2zM952,218h3v1h-3zM955,219h2v1h-2zM957,220h1v1h-1zM958,221h1v1h-1zM959,222h1v1h-1zM960,223h2v1h-2zM962,224h1v1h-1zM963,225h1v1h-1zM964,226h3v1h-3zM967,224h1v2h-1zM968,224h1v1h-1zM969,223h4v1h-4zM973,224h1v1h-1zM974,225h1v1h-1zM975,226h2v1h-2zM977,227h2v1h-2zM979,228h1v1h-1zM980,229h1v1h-1zM981,230h1v1h-1zM982,231h1v2h-1zM983,233h1v2h-1zM984,235h1v1h-1zM985,236h1v2h-1zM986,238h1v2h-1zM987,240h1v1h-1zM988,241h1v2h-1zM989,243h1v1h-1zM990,244h1v1h-1zM991,245h1v1h-1zM992,246h1v1h-1zM993,247h1v1h-1zM994,248h1v1h-1zM995,249h1v1h-1zM996,250h1v2h-1zM997,251h1v1h-1zM998,250h1v1h-1zM999,249h1v1h-1zM1000,248h1v1h-1zM1001,246h1v2h-1zM1002,246h2v1h-2zM1004,247h4v1h-4zM1008,248h1v1h-1zM1009,249h2v1h-2zM1011,250h2v1h-2zM1013,249h1v1h-1zM1014,248h3v1h-3zM1017,249h1v1h-1zM1018,250h1v1h-1zM1019,251h1v2h-1zM1020,253h1v1h-1zM1021,254h1v2h-1zM1022,256h1v2h-1zM1023,258h1v1h-1zM1024,259h1v2h-1zM1025,261h2v1h-2zM1027,260h1v1h-1zM1028,259h2v1h-2zM1030,258h1v1h-1zM1031,257h1v1h-1zM1032,256h2v1h-2zM1034,255h7v1h-7zM1041,256h3v1h-3zM1044,257h1v1h-1zM1045,258h1v2h-1zM1046,260h1v1h-1zM1047,261h1v1h-1zM1048,262h3v1h-3zM1051,261h1v1h-1zM1052,260h1v1h-1zM1053,257h1v3h-1zM1054,255h1v2h-1zM1055,252h1v3h-1zM1056,249h1v3h-1zM1057,247h1v2h-1zM1058,244h1v3h-1zM1059,242h1v2h-1zM1060,240h1v2h-1zM1061,239h3v1h-3zM1064,240h1v1h-1zM1065,241h2v1h-2zM1067,242h1v1h-1zM1068,243h1v1h-1zM1069,244h4v1h-4zM1073,245h1v1h-1zM1074,246h2v1h-2zM1076,245h1v1h-1zM1077,246h1v1h-1zM1078,247h1v1h-1zM1079,248h1v2h-1zM1080,250h1v2h-1zM1081,252h1v1h-1zM1082,253h1v1h-1zM1083,254h1v1h-1zM1084,255h1v2h-1zM1085,257h1v1h-1zM1086,258h2v1h-2zM1088,259h1v1h-1zM1089,260h1v2h-1zM1090,262h1v2h-1zM1091,264h1v2h-1zM1092,265h6v1h-6zM1098,264h1v1h-1zM1099,263h1v1h-1zM1100,262h1v1h-1zM1101,261h1v1h-1zM1102,260h1v1h-1zM1103,259h1v1h-1zM1104,258h1v1h-1zM1105,257h1v1h-1zM1106,255h1v2h-1zM1107,254h2v1h-2zM1109,255h1v1h-1zM1110,256h1v2h-1zM1111,258h1v2h-1zM1112,260h1v2h-1zM1113,262h1v2h-1zM1114,264h1v2h-1zM1115,266h1v1h-1zM1116,267h1v2h-1zM1117,269h1v1h-1zM1118,270h1v2h-1zM1119,272h1v2h-1zM1120,274h1v1h-1zM1121,275h1v2h-1zM1122,277h1v1h-1zM1123,278h1v1h-1zM1124,279h1v1h-1zM1125,280h1v1h-1zM1126,281h1v1h-1zM1127,282h2v1h-2zM1129,283h5v1h-5zM1134,284h2v1h-2zM1136,285h2v1h-2z" fill="#4180B8" stroke="none"/>
<path d="M49,407h1v1h-1zM50,408h2v1h-2zM52,407h2v1h-2zM54,405h1v2h-1zM55,404h1v1h-1zM56,405h1v1h-1zM57,406h1v1h-1zM58,407h1v1h-1zM59,408h2v1h-2zM61,409h1v2h-1zM62,411h1v1h-1zM63,412h2v1h-2zM65,413h1v1h-1zM66,414h1v1h-1zM67,415h1v1h-1zM68,416h2v1h-2zM70,417h3v1h-3zM73,418h5v1h-5zM78,417h5v1h-5zM83,416h2v1h-2zM85,417h2v1h-2zM87,418h1v1h-1zM88,419h1v1h-1zM89,420h1v1h-1zM90,419h1v1h-1zM91,417h1v2h-1zM92,417h1v1h-1zM93,416h1v1h-1zM94,414h1v2h-1zM95,412h1v2h-1zM96,412h1v1h-1zM97,411h3v1h-3zM100,412h2v1h-2zM102,411h4v1h-4zM106,412h2v1h-2zM108,413h1v1h-1zM109,414h1v1h-1zM110,415h1v1h-1zM111,416h6v1h-6zM117,415h4v1h-4zM121,416h2v1h-2zM123,417h1v1h-1zM124,418h1v1h-1zM125,419h1v2h-1zM126,421h1v2h-1zM127,423h1v1h-1zM128,424h3v1h-3zM131,423h2v1h-2zM133,424h4v1h-4zM137,425h2v1h-2zM139,426h1v1h-1zM140,427h1v1h-1zM141,428h1v1h-1zM142,429h1v3h-1zM143,432h1v2h-1zM144,434h2v1h-2zM146,435h3v1h-3zM149,434h1v1h-1zM150,432h1v2h-1zM151,430h1v2h-1zM152,429h1v1h-1zM153,427h1v2h-1zM154,426h1v1h-1zM155,425h1v1h-1zM156,424h1v1h-1zM157,423h1v1h-1zM158,421h1v2h-1zM159,419h1v2h-1zM160,417h1v2h-1zM161,416h3v1h-3zM164,415h2v1h-2zM166,413h1v2h-1zM167,412h1v1h-1zM168,410h1v2h-1zM169,409h5v1h-5zM174,410h1v1h-1zM175,411h2v1h-2zM177,412h4v1h-4zM181,411h1v1h-1zM182,409h1v2h-1zM183,407h1v2h-1zM184,405h1v2h-1zM185,403h1v2h-1zM186,401h1v2h-1zM187,398h1v3h-1zM188,396h1v2h-1zM189,393h1v3h-1zM190,391h1v2h-1zM191,389h1v2h-1zM192,389h3v1h-3zM195,390h1v1h-1zM196,391h1v1h-1zM197,392h1v2h-1zM198,394h5v1h-5zM203,395h2v1h-2zM205,396h3v1h-3zM208,397h3v1h-3zM211,396h1v1h-1zM212,394h1v2h-1zM213,391h1v3h-1zM214,390h1v1h-1zM215,389h1v1h-1zM216,388h1v1h-1zM217,387h1v1h-1zM218,385h1v2h-1zM219,383h1v2h-1zM220,383h1v1h-1zM221,382h1v1h-1zM222,380h1v2h-1zM223,379h1v1h-1zM224,378h1v1h-1zM225,377h1v1h-1zM226,378h2v1h-2zM228,379h1v1h-1zM229,380h1v1h-1zM230,381h5v1h-5zM235,380h1v1h-1zM236,381h2v1h-2zM238,382h1v2h-1zM239,383h4v1h-4zM243,384h2v1h-2zM245,385h2v1h-2zM247,384h1v1h-1zM248,383h1v1h-1zM249,382h1v1h-1zM250,381h1v1h-1zM251,380h1v1h-1zM252,379h1v1h-1zM253,378h1v1h-1zM254,377h1v1h-1zM255,375h1v2h-1zM256,374h1v1h-1zM257,373h1v1h-1zM258,372h1v1h-1zM259,371h1v1h-1zM260,370h3v1h-3zM263,369h3v1h-3zM266,368h1v1h-1zM267,366h1v2h-1zM268,364h1v2h-1zM269,362h1v2h-1zM270,360h1v2h-1zM271,358h1v2h-1zM272,357h1v1h-1zM273,356h1v1h-1zM274,355h3v1h-3zM277,356h1v1h-1zM278,357h1v3h-1zM279,360h1v2h-1zM280,362h6v1h-6zM286,361h4v1h-4zM290,362h1v2h-1zM291,364h2v1h-2zM293,365h2v1h-2zM295,366h1v2h-1zM296,368h1v1h-1zM297,369h1v2h-1zM298,371h5v1h-5zM303,372h3v1h-3zM306,371h2v1h-2zM308,370h2v1h-2zM310,369h1v1h-1zM311,367h1v2h-1zM312,366h1v1h-1zM313,365h1v1h-1zM314,364h1v1h-1zM315,362h1v2h-1zM316,362h4v1h-4zM320,361h1v1h-1zM321,360h1v1h-1zM322,359h2v1h-2zM324,358h1v1h-1zM325,357h1v1h-1zM326,355h1v2h-1zM327,353h1v2h-1zM328,351h1v2h-1zM329,350h1v1h-1zM330,348h1v2h-1zM331,347h1v1h-1zM332,344h1v3h-1zM333,342h1v2h-1zM334,340h1v2h-1zM335,340h1v1h-1zM336,339h1v1h-1zM337,338h1v1h-1zM338,336h1v2h-1zM339,335h1v1h-1zM340,333h1v2h-1zM341,331h1v2h-1zM342,327h1v4h-1zM343,324h1v3h-1zM344,320h1v4h-1zM345,317h1v3h-1zM346,316h2v1h-2zM348,315h1v1h-1zM349,313h1v2h-1zM350,312h1v1h-1zM351,310h1v2h-1zM352,308h1v2h-1zM353,306h1v2h-1zM354,305h1v1h-1zM355,303h1v2h-1zM356,302h1v1h-1zM357,301h2v1h-2zM359,302h1v1h-1zM360,303h1v4h-1zM361,307h1v2h-1zM362,309h1v2h-1zM363,310h3v1h-3zM366,308h1v2h-1zM367,308h3v1h-3zM370,307h1v1h-1zM371,305h1v2h-1zM372,303h1v2h-1zM373,303h1v1h-1zM374,304h1v1h-1zM375,305h1v1h-1zM376,304h2v1h-2zM378,305h1v2h-1zM379,306h3v1h-3zM382,305h1v1h-1zM383,303h1v2h-1zM384,301h1v2h-1zM385,299h1v2h-1zM386,298h4v1h-4zM390,297h1v1h-1zM391,296h1v1h-1zM392,295h1v1h-1zM393,293h1v2h-1zM394,291h1v2h-1zM395,290h3v1h-3zM398,291h2v1h-2zM400,290h1v1h-1zM401,289h1v1h-1zM402,288h1v1h-1zM403,287h3v1h-3zM406,286h1v1h-1zM407,283h1v3h-1zM408,281h1v2h-1zM409,280h1v1h-1zM410,279h2v1h-2zM412,278h1v1h-1zM413,276h1v2h-1zM414,276h2v1h-2zM416,277h1v1h-1zM417,278h3v1h-3zM420,275h1v3h-1zM421,274h1v1h-1zM422,272h1v2h-1zM423,269h1v3h-1zM424,266h1v3h-1zM425,264h1v2h-1zM426,262h1v2h-1zM427,260h1v2h-1zM428,258h1v2h-1zM429,255h1v3h-1zM430,252h1v3h-1zM431,248h1v4h-1zM432,245h1v3h-1zM433,243h1v2h-1zM434,240h1v3h-1zM435,235h1v5h-1zM436,232h1v3h-1zM437,229h1v3h-1zM438,225h1v4h-1zM439,220h1v5h-1zM440,219h1v1h-1zM441,220h1v1h-1zM442,221h1v1h-1zM443,222h1v2h-1zM444,222h1v1h-1zM445,219h1v3h-1zM446,215h1v4h-1zM447,211h1v4h-1zM448,206h1v5h-1zM449,202h1v4h-1zM450,199h1v3h-1zM451,197h1v2h-1zM452,196h1v1h-1zM453,193h1v3h-1zM454,189h1v4h-1zM455,187h1v2h-1zM456,185h1v2h-1zM457,182h1v3h-1zM458,181h1v1h-1zM459,179h1v2h-1zM460,176h1v3h-1zM461,174h1v2h-1zM462,172h1v2h-1zM463,171h2v1h-2zM465,172h1v3h-1zM466,175h1v3h-1zM467,178h1v1h-1zM468,179h1v1h-1zM469,180h1v1h-1zM470,181h1v2h-1zM471,182h1v1h-1zM472,180h1v2h-1zM473,178h1v2h-1zM474,178h1v1h-1zM475,179h1v2h-1zM476,180h1v1h-1zM477,179h1v1h-1zM478,177h1v2h-1zM479,174h1v3h-1zM480,173h1v1h-1zM481,172h1v1h-1zM482,170h1v2h-1zM483,167h1v3h-1zM484,164h1v3h-1zM485,160h1v4h-1zM486,156h1v4h-1zM487,154h1v2h-1zM488,154h1v1h-1zM489,153h1v1h-1zM490,151h1v2h-1zM491,149h1v2h-1zM492,150h1v1h-1zM493,151h1v3h-1zM494,152h1v1h-1zM495,151h1v1h-1zM496,150h3v1h-3zM499,151h1v3h-1zM500,154h1v4h-1zM501,158h1v4h-1zM502,162h1v2h-1zM503,161h1v2h-1zM504,160h2v1h-2zM506,159h1v1h-1zM507,160h1v1h-1zM508,161h1v3h-1zM509,162h3v1h-3zM512,163h1v1h-1zM513,164h1v4h-1zM514,168h2v1h-2zM516,167h1v1h-1zM517,166h1v1h-1zM518,165h1v1h-1zM519,163h1v2h-1zM520,159h1v4h-1zM521,156h1v3h-1zM522,152h1v4h-1zM523,147h1v5h-1zM524,145h1v2h-1zM525,143h1v2h-1zM526,142h2v1h-2zM528,141h1v1h-1zM529,140h1v1h-1zM530,141h1v1h-1zM531,140h2v1h-2zM533,139h1v1h-1zM534,138h1v1h-1zM535,136h1v2h-1zM536,133h1v3h-1zM537,127h1v6h-1zM538,119h1v8h-1zM539,112h1v7h-1zM540,106h1v6h-1zM541,101h1v5h-1zM542,99h1v2h-1zM543,99h1v1h-1zM544,100h1v1h-1zM545,99h1v1h-1zM546,100h1v2h-1zM547,102h1v7h-1zM548,109h1v7h-1zM549,116h1v4h-1zM550,120h1v1h-1zM551,121h1v1h-1zM552,122h1v1h-1zM553,123h1v3h-1zM554,126h1v3h-1zM555,129h1v2h-1zM556,131h1v3h-1zM557,134h1v5h-1zM558,139h1v3h-1zM559,142h1v1h-1zM560,143h1v1h-1zM561,144h1v1h-1zM562,141h1v3h-1zM563,137h1v4h-1zM564,134h1v3h-1zM565,131h1v3h-1zM566,128h1v3h-1zM567,125h1v3h-1zM568,124h1v1h-1zM569,123h2v1h-2zM571,124h1v2h-1zM572,126h1v2h-1zM573,128h2v1h-2zM575,129h1v1h-1zM576,130h2v1h-2zM578,128h1v2h-1zM579,125h1v3h-1zM580,122h1v3h-1zM581,119h1v3h-1zM582,115h1v4h-1zM583,112h1v3h-1zM584,109h1v3h-1zM585,108h1v1h-1zM586,109h1v1h-1zM587,110h1v4h-1zM588,114h1v6h-1zM589,120h1v4h-1zM590,124h1v3h-1zM591,127h1v3h-1zM592,130h1v4h-1zM593,134h1v4h-1zM594,138h2v1h-2zM596,137h1v1h-1zM597,136h1v1h-1zM598,133h1v3h-1zM599,129h1v4h-1zM600,127h1v2h-1zM601,126h1v1h-1zM602,127h1v1h-1zM603,128h1v1h-1zM604,129h1v1h-1zM605,130h4v1h-4zM609,131h1v2h-1zM610,132h6v1h-6zM616,133h1v1h-1zM617,134h1v2h-1zM618,136h1v2h-1zM619,138h1v5h-1zM620,143h1v7h-1zM621,150h1v7h-1zM622,157h1v7h-1zM623,164h1v7h-1zM624,171h1v6h-1zM625,177h1v5h-1zM626,182h1v5h-1zM627,187h1v3h-1zM628,190h1v3h-1zM629,193h1v2h-1zM630,195h1v2h-1zM631,197h1v2h-1zM632,199h1v2h-1zM633,201h1v3h-1zM634,204h1v2h-1zM635,206h1v1h-1zM636,207h1v1h-1zM637,208h1v1h-1zM638,209h1v2h-1zM639,210h1v1h-1zM640,211h1v1h-1zM641,208h1v3h-1zM642,203h1v5h-1zM643,198h1v5h-1zM644,194h1v4h-1zM645,191h1v3h-1zM646,189h1v2h-1zM647,188h1v1h-1zM648,189h3v1h-3zM651,188h4v1h-4zM655,187h1v1h-1zM656,186h4v1h-4zM660,187h1v2h-1zM661,189h1v2h-1zM662,191h1v4h-1zM663,195h1v4h-1zM664,199h1v5h-1zM665,204h1v4h-1zM666,208h1v3h-1zM667,211h1v2h-1zM668,213h1v3h-1zM669,216h1v3h-1zM670,219h1v2h-1zM671,221h1v1h-1zM672,220h1v1h-1zM673,218h1v2h-1zM674,214h1v4h-1zM675,213h1v1h-1zM676,211h1v2h-1zM677,210h1v1h-1zM678,208h1v2h-1zM679,207h1v1h-1zM680,206h2v1h-2zM682,207h1v1h-1zM683,208h4v1h-4zM687,209h2v1h-2zM689,210h1v1h-1zM690,211h2v1h-2zM692,209h1v2h-1zM693,208h1v1h-1zM694,209h1v1h-1zM695,210h2v1h-2zM697,211h2v1h-2zM699,210h1v1h-1zM700,209h1v1h-1zM701,208h1v1h-1zM702,209h1v1h-1zM703,210h1v2h-1zM704,212h1v2h-1zM705,214h1v3h-1zM706,217h2v1h-2zM708,216h1v1h-1zM709,215h1v1h-1zM710,213h1v2h-1zM711,210h1v3h-1zM712,205h1v5h-1zM713,201h1v4h-1zM714,198h1v3h-1zM715,196h1v2h-1zM716,195h1v1h-1zM717,193h1v2h-1zM718,193h1v1h-1zM719,194h1v1h-1zM720,195h1v1h-1zM721,196h1v1h-1zM722,197h1v1h-1zM723,198h1v1h-1zM724,197h1v1h-1zM725,196h1v1h-1zM726,197h1v1h-1zM727,198h1v1h-1zM728,199h1v1h-1zM729,200h1v1h-1zM730,201h1v1h-1zM731,202h1v1h-1zM732,203h1v2h-1zM733,205h1v2h-1zM734,207h1v2h-1zM735,208h1v1h-1zM736,207h1v1h-1zM737,205h1v2h-1zM738,203h1v2h-1zM739,202h2v1h-2zM741,203h2v1h-2zM743,202h2v1h-2zM745,200h1v2h-1zM746,199h1v1h-1zM747,197h1v2h-1zM748,193h1v4h-1zM749,190h1v3h-1zM750,187h1v3h-1zM751,186h2v1h-2zM753,185h2v1h-2zM755,184h1v1h-1zM756,183h3v1h-3zM759,182h2v1h-2zM761,181h1v1h-1zM762,179h1v2h-1zM763,177h1v2h-1zM764,173h1v4h-1zM765,171h1v2h-1zM766,168h1v3h-1zM767,165h1v3h-1zM768,163h1v2h-1zM769,160h1v3h-1zM770,157h1v3h-1zM771,154h1v3h-1zM772,152h1v2h-1zM773,150h1v2h-1zM774,149h1v1h-1zM775,148h1v1h-1zM776,149h2v1h-2zM778,148h1v1h-1zM779,147h2v1h-2zM781,148h1v1h-1zM782,149h1v2h-1zM783,151h1v1h-1zM784,152h1v1h-1zM785,149h1v3h-1zM786,146h1v3h-1zM787,143h1v3h-1zM788,139h1v4h-1zM789,135h1v4h-1zM790,131h1v4h-1zM791,127h1v4h-1zM792,125h1v2h-1zM793,123h1v2h-1zM794,123h3v1h-3zM797,122h2v1h-2zM799,121h1v1h-1zM800,120h2v1h-2zM802,121h1v1h-1zM803,122h1v2h-1zM804,124h1v2h-1zM805,126h1v2h-1zM806,128h1v1h-1zM807,129h1v1h-1zM808,130h1v2h-1zM809,132h1v3h-1zM810,135h1v3h-1zM811,138h1v2h-1zM812,140h1v2h-1zM813,142h1v2h-1zM814,144h2v1h-2zM816,145h1v1h-1zM817,146h1v2h-1zM818,148h1v2h-1zM819,150h1v2h-1zM820,152h1v2h-1zM821,154h1v4h-1zM822,158h1v2h-1zM823,160h1v2h-1zM824,162h1v2h-1zM825,164h1v2h-1zM826,166h1v1h-1zM827,167h1v2h-1zM828,169h1v2h-1zM829,171h1v2h-1zM830,173h1v1h-1zM831,174h1v1h-1zM832,175h1v1h-1zM833,176h1v1h-1zM834,177h1v1h-1zM835,178h2v1h-2zM837,177h1v1h-1zM838,176h1v1h-1zM839,177h1v2h-1zM840,179h1v2h-1zM841,181h1v2h-1zM842,183h1v3h-1zM843,186h1v4h-1zM844,190h1v3h-1zM845,193h1v3h-1zM846,196h1v3h-1zM847,199h1v3h-1zM848,202h1v3h-1zM849,205h1v2h-1zM850,207h1v2h-1zM851,208h1v1h-1zM852,209h2v1h-2zM854,208h1v1h-1zM855,209h2v1h-2zM857,208h1v1h-1zM858,209h1v5h-1zM859,214h1v5h-1zM860,219h1v4h-1zM861,223h1v6h-1zM862,229h1v6h-1zM863,235h1v4h-1zM864,239h1v3h-1zM865,242h1v3h-1zM866,245h1v2h-1zM867,247h1v2h-1zM868,249h1v1h-1zM869,250h1v2h-1zM870,252h1v1h-1zM871,253h1v2h-1zM872,255h1v1h-1zM873,256h2v1h-2zM875,255h1v1h-1zM876,254h2v1h-2zM878,253h2v1h-2zM880,251h1v2h-1zM881,249h1v2h-1zM882,247h1v2h-1zM883,245h1v2h-1zM884,243h1v2h-1zM885,241h1v2h-1zM886,239h1v2h-1zM887,237h1v2h-1zM888,234h1v3h-1zM889,231h1v3h-1zM890,228h1v3h-1zM891,226h1v2h-1zM892,224h1v2h-1zM893,222h1v2h-1zM894,221h1v1h-1zM895,219h1v2h-1zM896,215h1v4h-1zM897,213h1v2h-1zM898,213h1v1h-1zM899,212h2v1h-2zM901,213h1v1h-1zM902,214h2v1h-2zM904,213h1v1h-1zM905,212h4v1h-4zM909,211h2v1h-2zM911,210h1v1h-1zM912,208h1v2h-1zM913,207h1v1h-1zM914,208h3v1h-3zM917,207h1v1h-1zM918,206h2v1h-2zM920,207h1v1h-1zM921,208h2v1h-2zM923,209h1v1h-1zM924,210h1v1h-1zM925,211h1v2h-1zM926,213h1v1h-1zM927,214h4v1h-4zM931,215h1v1h-1zM932,216h1v2h-1zM933,218h1v2h-1zM934,220h2v1h-2zM936,221h2v1h-2zM938,220h1v1h-1zM939,218h1v2h-1zM940,216h1v2h-1zM941,214h1v2h-1zM942,212h1v2h-1zM943,211h1v1h-1zM944,210h2v1h-2zM946,211h1v1h-1zM947,212h1v3h-1zM948,215h1v2h-1zM949,217h1v2h-1zM950,219h1v1h-1zM951,220h4v1h-4zM955,221h1v1h-1zM956,222h1v1h-1zM957,223h1v2h-1zM958,225h1v1h-1zM959,226h3v1h-3zM962,227h1v2h-1zM963,229h1v2h-1zM964,231h1v1h-1zM965,230h1v1h-1zM966,229h1v1h-1zM967,225h1v4h-1zM968,223h1v2h-1zM969,222h1v1h-1zM970,221h1v1h-1zM971,222h1v1h-1zM972,223h1v1h-1zM973,224h1v2h-1zM974,226h1v1h-1zM975,227h1v2h-1zM976,228h1v1h-1zM977,229h2v1h-2zM979,230h1v2h-1zM980,232h1v2h-1zM981,234h1v2h-1zM982,236h1v2h-1zM983,238h1v2h-1zM984,240h1v3h-1zM985,243h1v3h-1zM986,246h1v2h-1zM987,248h1v2h-1zM988,249h1v1h-1zM989,250h1v1h-1zM990,251h1v1h-1zM991,252h1v2h-1zM992,254h2v1h-2zM994,255h1v1h-1zM995,256h1v1h-1zM996,257h1v2h-1zM997,257h1v1h-1zM998,255h1v2h-1zM999,251h1v4h-1zM1000,248h1v3h-1zM1001,245h1v3h-1zM1002,244h1v1h-1zM1003,245h1v1h-1zM1004,246h1v1h-1zM1005,247h3v1h-3zM1008,248h1v2h-1zM1009,250h1v2h-1zM1010,252h3v1h-3zM1013,250h1v2h-1zM1014,248h1v2h-1zM1015,248h2v1h-2zM1017,249h1v2h-1zM1018,251h1v2h-1zM1019,253h1v2h-1zM1020,255h1v3h-1zM1021,258h1v3h-1zM1022,261h1v3h-1zM1023,264h1v2h-1zM1024,266h1v2h-1zM1025,267h1v1h-1zM1026,266h1v1h-1zM1027,264h1v2h-1zM1028,262h1v2h-1zM1029,261h1v1h-1zM1030,258h1v3h-1zM1031,255h1v3h-1zM1032,254h5v1h-5zM1037,253h2v1h-2zM1039,254h1v1h-1zM1040,255h1v1h-1zM1041,256h2v1h-2zM1043,257h1v1h-1zM1044,258h1v2h-1zM1045,260h1v2h-1zM1046,262h1v2h-1zM1047,264h1v2h-1zM1048,266h1v1h-1zM1049,267h1v1h-1zM1050,266h1v1h-1zM1051,263h1v3h-1zM1052,259h1v4h-1zM1053,254h1v5h-1zM1054,250h1v4h-1zM1055,245h1v5h-1zM1056,241h1v4h-1zM1057,237h1v4h-1zM1058,233h1v4h-1zM1059,231h1v2h-1zM1060,230h2v1h-2zM1062,231h1v1h-1zM1063,232h1v2h-1zM1064,234h1v2h-1zM1065,236h1v2h-1zM1066,238h1v2h-1zM1067,240h1v3h-1zM1068,243h1v2h-1zM1069,245h4v1h-4zM1073,246h1v2h-1zM1074,248h1v2h-1zM1075,248h1v1h-1zM1076,246h1v2h-1zM1077,247h1v1h-1zM1078,248h1v3h-1zM1079,251h1v3h-1zM1080,254h1v3h-1zM1081,257h1v2h-1zM1082,259h1v1h-1zM1083,260h1v1h-1zM1084,261h1v1h-1zM1085,262h1v2h-1zM1086,264h2v1h-2zM1088,265h1v1h-1zM1089,266h1v2h-1zM1090,268h1v3h-1zM1091,271h1v2h-1zM1092,273h1v1h-1zM1093,271h1v2h-1zM1094,270h1v1h-1zM1095,269h1v1h-1zM1096,268h1v1h-1zM1097,267h1v1h-1zM1098,265h1v2h-1zM1099,263h1v2h-1zM1100,261h1v2h-1zM1101,259h1v2h-1zM1102,257h1v2h-1zM1103,255h1v2h-1zM1104,253h1v2h-1zM1105,252h1v1h-1zM1106,250h1v2h-1zM1107,248h1v2h-1zM1108,249h1v2h-1zM1109,251h1v3h-1zM1110,254h1v4h-1zM1111,258h1v4h-1zM1112,262h1v5h-1zM1113,267h1v3h-1zM1114,270h1v2h-1zM1115,272h1v1h-1zM1116,273h1v2h-1zM1117,275h1v3h-1zM1118,278h1v2h-1zM1119,280h1v2h-1zM1120,282h1v2h-1zM1121,284h1v1h-1zM1122,285h1v2h-1zM1123,286h1v1h-1zM1124,287h2v1h-2zM1126,288h1v1h-1zM1127,289h1v1h-1zM1128,288h3v1h-3zM1131,287h2v1h-2zM1133,286h2v1h-2zM1135,287h3v1h-3z" fill="#A0481C" stroke="none"/>
</g>
<clipPath id="c2"><rect x="48.5" y="486.5" width="1111.0" height="103.0"/></clipPath>
<g clip-path="url(#c2)" fill="none" stroke-linejoin="round" shape-rendering="crispEdges">
<path d="M48.8,537.5 L49.6,540.1 L50.5,542.3 L51.3,540.3 L52.2,538.6 L53.0,537.3 L53.9,534.4 L54.7,531.0 L55.6,531.4 L56.4,533.8 L57.2,536.9 L58.1,540.8 L58.9,541.8 L59.8,542.2 L60.6,543.4 L61.5,545.2 L62.3,545.6 L63.2,545.0 L64.0,543.8 L64.9,542.9 L65.7,542.5 L66.5,542.4 L67.4,542.9 L68.2,543.2 L69.1,542.8 L69.9,541.2 L70.8,539.6 L71.6,538.4 L72.5,538.1 L73.3,537.9 L74.1,537.6 L75.0,536.7 L75.8,535.9 L76.7,534.5 L77.5,533.1 L78.4,532.5 L79.2,532.7 L80.1,532.9 L80.9,533.3 L81.8,534.3 L82.6,534.3 L83.4,531.9 L84.3,532.2 L85.1,533.8 L86.0,535.6 L86.8,537.6 L87.7,539.6 L88.5,540.9 L89.4,540.4 L90.2,537.4 L91.0,534.0 L91.9,532.0 L92.7,531.1 L93.6,529.8 L94.4,528.1 L95.3,526.1 L96.1,526.8 L97.0,529.1 L97.8,531.5 L98.7,533.6 L99.5,535.2 L100.3,537.2 L101.2,538.6 L102.0,537.8 L102.9,537.0 L103.7,537.7 L104.6,538.2 L105.4,539.3 L106.3,540.4 L107.1,541.6 L107.9,542.2 L108.8,542.8 L109.6,543.6 L110.5,544.9 L111.3,546.3 L112.2,544.6 L113.0,542.3 L113.9,540.9 L114.7,540.2 L115.6,539.3 L116.4,537.9 L117.2,536.0 L118.1,534.4 L118.9,534.5 L119.8,535.3 L120.6,536.8 L121.5,537.6 L122.3,538.8 L123.2,540.1 L124.0,541.7 L124.8,544.0 L125.7,546.0 L126.5,546.9 L127.4,547.7 L128.2,546.0 L129.1,542.9 L129.9,540.8 L130.8,538.0 L131.6,536.1 L132.5,535.6 L133.3,535.8 L134.1,535.5 L135.0,535.3 L135.8,535.2 L136.7,535.8 L137.5,536.7 L138.4,537.5 L139.2,538.4 L140.1,539.0 L140.9,540.2 L141.7,542.3 L142.6,545.4 L143.4,546.9 L144.3,546.3 L145.1,544.8 L146.0,542.0 L146.8,540.0 L147.7,538.2 L148.5,536.1 L149.4,532.0 L150.2,527.5 L151.0,524.0 L151.9,522.5 L152.7,522.6 L153.6,522.9 L154.4,522.5 L155.3,522.9 L156.1,524.8 L157.0,526.7 L157.8,527.3 L158.6,526.0 L159.5,523.2 L160.3,523.2 L161.2,525.7 L162.0,529.5 L162.9,532.7 L163.7,534.6 L164.6,535.4 L165.4,535.6 L166.3,534.5 L167.1,533.5 L167.9,532.6 L168.8,532.3 L169.6,533.2 L170.5,535.1 L171.3,537.5 L172.2,538.9 L173.0,540.5 L173.9,542.1 L174.7,544.4 L175.5,546.9 L176.4,547.8 L177.2,547.8 L178.1,546.5 L178.9,545.2 L179.8,543.9 L180.6,542.1 L181.5,539.2 L182.3,536.0 L183.2,533.1 L184.0,531.0 L184.8,529.0 L185.7,527.2 L186.5,525.4 L187.4,523.6 L188.2,522.7 L189.1,522.2 L189.9,523.0 L190.8,523.9 L191.6,526.3 L192.4,529.6 L193.3,534.4 L194.1,538.8 L195.0,543.6 L195.8,547.5 L196.7,550.0 L197.5,551.8 L198.4,552.4 L199.2,551.6 L200.1,550.2 L200.9,548.8 L201.7,547.3 L202.6,546.6 L203.4,545.9 L204.3,546.2 L205.1,545.9 L206.0,545.5 L206.8,544.5 L207.7,543.3 L208.5,542.8 L209.3,542.3 L210.2,541.0 L211.0,539.5 L211.9,535.2 L212.7,530.8 L213.6,526.6 L214.4,526.6 L215.3,527.8 L216.1,529.0 L217.0,530.1 L217.8,530.3 L218.6,529.0 L219.5,527.7 L220.3,529.7 L221.2,530.7 L222.0,531.3 L222.9,531.0 L223.7,531.4 L224.6,532.3 L225.4,534.7 L226.2,537.7 L227.1,540.6 L227.9,543.3 L228.8,545.9 L229.6,548.0 L230.5,548.0 L231.3,547.2 L232.2,545.3 L233.0,544.7 L233.9,544.1 L234.7,542.6 L235.5,541.4 L236.4,541.8 L237.2,543.2 L238.1,544.9 L238.9,546.0 L239.8,545.4 L240.6,543.5 L241.5,541.7 L242.3,541.0 L243.1,540.9 L244.0,541.5 L244.8,541.7 L245.7,540.9 L246.5,539.6 L247.4,538.2 L248.2,535.9 L249.1,534.0 L249.9,531.6 L250.8,530.4 L251.6,531.0 L252.4,530.6 L253.3,529.6 L254.1,528.6 L255.0,527.8 L255.8,527.1 L256.7,528.4 L257.5,529.8 L258.4,530.2 L259.2,529.9 L260.0,530.9 L260.9,533.3 L261.7,535.5 L262.6,537.2 L263.4,538.3 L264.3,538.6 L265.1,538.9 L266.0,538.5 L266.8,537.6 L267.7,534.3 L268.5,531.9 L269.3,529.9 L270.2,528.9 L271.0,528.9 L271.9,529.2 L272.7,530.6 L273.6,532.6 L274.4,533.8 L275.3,535.0 L276.1,537.3 L276.9,541.6 L277.8,547.7 L278.6,554.2 L279.5,556.0 L280.3,555.2 L281.2,553.2 L282.0,550.3 L282.9,547.0 L283.7,544.3 L284.6,543.6 L285.4,542.6 L286.2,540.9 L287.1,539.2 L287.9,538.5 L288.8,539.4 L289.6,540.6 L290.5,542.9 L291.3,544.8 L292.2,544.9 L293.0,543.7 L293.8,543.2 L294.7,543.1 L295.5,544.2 L296.4,546.0 L297.2,548.6 L298.1,548.7 L298.9,545.8 L299.8,542.6 L300.6,539.7 L301.5,537.7 L302.3,537.0 L303.1,536.7 L304.0,536.8 L304.8,536.5 L305.7,535.2 L306.5,533.9 L307.4,532.8 L308.2,531.9 L309.1,530.8 L309.9,530.1 L310.7,528.8 L311.6,527.8 L312.4,527.0 L313.3,526.1 L314.1,526.5 L315.0,527.1 L315.8,527.0 L316.7,530.3 L317.5,534.1 L318.4,535.4 L319.2,535.7 L320.0,535.5 L320.9,534.7 L321.7,534.0 L322.6,534.3 L323.4,535.8 L324.3,535.7 L325.1,534.5 L326.0,532.3 L326.8,530.1 L327.6,528.0 L328.5,526.6 L329.3,527.4 L330.2,529.2 L331.0,529.9 L331.9,529.0 L332.7,527.7 L333.6,526.0 L334.4,527.6 L335.3,531.0 L336.1,534.6 L336.9,534.8 L337.8,534.7 L338.6,535.7 L339.5,536.6 L340.3,535.3 L341.2,532.4 L342.0,529.9 L342.9,526.0 L343.7,522.8 L344.5,521.4 L345.4,521.5 L346.2,525.9 L347.1,533.7 L347.9,538.9 L348.8,538.0 L349.6,537.3 L350.5,538.2 L351.3,537.8 L352.2,537.6 L353.0,537.2 L353.8,536.8 L354.7,538.0 L355.5,537.4 L356.4,539.6 L357.2,540.3 L358.1,541.7 L358.9,545.3 L359.8,554.0 L360.6,560.6 L361.4,564.9 L362.3,563.5 L363.1,561.4 L364.0,557.9 L364.8,553.8 L365.7,548.8 L366.5,543.4 L367.4,542.5 L368.2,541.7 L369.1,543.1 L369.9,542.3 L370.7,539.1 L371.6,534.5 L372.4,530.8 L373.3,532.7 L374.1,538.4 L375.0,541.3 L375.8,540.2 L376.7,538.9 L377.5,540.0 L378.3,544.5 L379.2,545.2 L380.0,544.0 L380.9,542.2 L381.7,540.1 L382.6,537.6 L383.4,534.7 L384.3,531.4 L385.1,528.5 L386.0,528.6 L386.8,529.9 L387.6,532.8 L388.5,535.6 L389.3,536.5 L390.2,535.8 L391.0,535.6 L391.9,536.4 L392.7,535.6 L393.6,529.6 L394.4,528.6 L395.2,531.1 L396.1,533.8 L396.9,536.3 L397.8,538.6 L398.6,540.8 L399.5,542.6 L400.3,541.3 L401.2,538.3 L402.0,536.4 L402.9,536.4 L403.7,537.4 L404.5,539.0 L405.4,540.6 L406.2,538.9 L407.1,533.7 L407.9,529.7 L408.8,529.0 L409.6,530.5 L410.5,533.0 L411.3,536.0 L412.1,536.9 L413.0,534.6 L413.8,533.7 L414.7,535.9 L415.5,539.5 L416.4,543.1 L417.2,545.7 L418.1,546.5 L418.9,546.7 L419.8,544.8 L420.6,537.2 L421.4,534.7 L422.3,533.1 L423.1,530.9 L424.0,525.4 L424.8,522.4 L425.7,524.8 L426.5,527.1 L427.4,528.1 L428.2,528.0 L429.0,526.9 L429.9,525.0 L430.7,522.8 L431.6,520.5 L432.4,520.8 L433.3,524.6 L434.1,526.2 L435.0,522.5 L435.8,520.9 L436.7,522.8 L437.5,524.2 L438.3,522.9 L439.2,519.7 L440.0,523.6 L440.9,534.2 L441.7,543.2 L442.6,551.1 L443.4,557.1 L444.3,556.7 L445.1,551.0 L445.9,542.9 L446.8,535.6 L447.6,530.2 L448.5,526.7 L449.3,524.7 L450.2,523.8 L451.0,527.6 L451.9,534.1 L452.7,536.6 L453.6,532.6 L454.4,531.8 L455.2,532.5 L456.1,534.5 L456.9,536.0 L457.8,535.4 L458.6,539.3 L459.5,539.4 L460.3,539.5 L461.2,540.4 L462.0,538.4 L462.8,539.3 L463.7,542.8 L464.5,548.8 L465.4,557.1 L466.2,565.6 L467.1,567.0 L467.9,563.7 L468.8,563.7 L469.6,563.8 L470.5,563.9 L471.3,560.4 L472.1,554.2 L473.0,546.3 L473.8,543.3 L474.7,545.3 L475.5,548.2 L476.4,547.7 L477.2,545.2 L478.1,540.9 L478.9,535.2 L479.7,530.9 L480.6,532.0 L481.4,532.2 L482.3,531.4 L483.1,529.0 L484.0,525.4 L484.8,521.6 L485.7,518.5 L486.5,515.7 L487.4,520.2 L488.2,526.9 L489.0,531.4 L489.9,532.0 L490.7,532.1 L491.6,534.5 L492.4,541.6 L493.3,550.4 L494.1,551.7 L495.0,546.9 L495.8,544.2 L496.6,544.7 L497.5,545.4 L498.3,544.4 L499.2,550.4 L500.0,559.6 L500.9,566.6 L501.7,568.7 L502.6,564.1 L503.4,554.3 L504.3,544.5 L505.1,545.0 L505.9,542.3 L506.8,539.5 L507.6,541.9 L508.5,547.8 L509.3,542.2 L510.2,540.5 L511.0,540.8 L511.9,539.4 L512.7,543.0 L513.5,550.1 L514.4,550.4 L515.2,545.6 L516.1,539.7 L516.9,538.4 L517.8,534.6 L518.6,530.2 L519.5,527.2 L520.3,519.3 L521.2,516.1 L522.0,513.5 L522.8,510.1 L523.7,507.6 L524.5,511.4 L525.4,514.9 L526.2,519.2 L527.1,526.3 L527.9,530.6 L528.8,532.3 L529.6,533.0 L530.4,539.8 L531.3,541.9 L532.1,542.0 L533.0,544.6 L533.8,539.7 L534.7,537.8 L535.5,535.3 L536.4,531.0 L537.2,525.5 L538.1,510.8 L538.9,502.2 L539.7,500.2 L540.6,499.5 L541.4,502.9 L542.3,510.5 L543.1,522.4 L544.0,536.1 L544.8,541.6 L545.7,541.6 L546.5,552.9 L547.3,573.1 L548.2,584.0 L549.0,588.0 L549.9,584.8 L550.7,577.8 L551.6,570.5 L552.4,566.6 L553.3,566.3 L554.1,566.7 L555.0,566.3 L555.8,563.6 L556.6,562.3 L557.5,568.3 L558.3,566.6 L559.2,560.4 L560.0,554.7 L560.9,551.2 L561.7,545.3 L562.6,532.1 L563.4,523.3 L564.2,517.6 L565.1,513.0 L565.9,509.2 L566.8,507.6 L567.6,510.3 L568.5,514.3 L569.3,517.6 L570.2,522.9 L571.0,529.4 L571.9,536.5 L572.7,542.5 L573.5,544.0 L574.4,542.1 L575.2,541.8 L576.1,544.9 L576.9,544.4 L577.8,540.7 L578.6,534.0 L579.5,528.9 L580.3,524.7 L581.1,521.3 L582.0,517.6 L582.8,514.0 L583.7,516.0 L584.5,515.2 L585.4,519.6 L586.2,528.4 L587.1,540.8 L587.9,554.3 L588.8,565.1 L589.6,568.2 L590.4,568.2 L591.3,568.3 L592.1,569.8 L593.0,572.2 L593.8,569.6 L594.7,560.6 L595.5,550.9 L596.4,543.6 L597.2,538.8 L598.0,530.6 L598.9,522.1 L599.7,516.7 L600.6,515.8 L601.4,520.2 L602.3,525.1 L603.1,530.2 L604.0,534.7 L604.8,536.1 L605.7,539.0 L606.5,539.4 L607.3,536.6 L608.2,537.3 L609.0,539.6 L609.9,541.6 L610.7,541.1 L611.6,539.7 L612.4,538.0 L613.3,536.3 L614.1,535.1 L614.9,535.8 L615.8,537.7 L616.6,540.0 L617.5,543.0 L618.3,546.0 L619.2,550.4 L620.0,563.3 L620.9,574.1 L621.7,577.1 L622.6,581.5 L623.4,583.7 L624.2,583.8 L625.1,579.9 L625.9,573.3 L626.8,568.9 L627.6,562.4 L628.5,554.8 L629.3,549.9 L630.2,544.9 L631.0,539.2 L631.8,536.6 L632.7,536.8 L633.5,537.5 L634.4,534.7 L635.2,530.9 L636.1,529.3 L636.9,525.6 L637.8,524.9 L638.6,526.2 L639.5,523.8 L640.3,525.2 L641.1,516.5 L642.0,506.3 L642.8,497.2 L643.7,491.2 L644.5,489.9 L645.4,492.5 L646.2,496.5 L647.1,501.9 L647.9,510.3 L648.7,518.1 L649.6,524.3 L650.4,527.1 L651.3,527.7 L652.1,528.4 L653.0,530.3 L653.8,532.7 L654.7,533.4 L655.5,532.0 L656.4,532.5 L657.2,534.0 L658.0,535.5 L658.9,536.9 L659.7,538.8 L660.6,542.2 L661.4,547.4 L662.3,552.7 L663.1,559.5 L664.0,565.7 L664.8,568.2 L665.6,567.4 L666.5,564.4 L667.3,560.8 L668.2,558.3 L669.0,557.2 L669.9,556.6 L670.7,552.7 L671.6,546.6 L672.4,539.0 L673.3,530.3 L674.1,521.1 L674.9,515.7 L675.8,515.5 L676.6,515.5 L677.5,515.0 L678.3,515.0 L679.2,517.0 L680.0,519.2 L680.9,521.4 L681.7,525.3 L682.5,529.8 L683.4,533.2 L684.2,535.0 L685.1,535.3 L685.9,534.9 L686.8,537.1 L687.6,539.1 L688.5,537.4 L689.3,539.1 L690.2,543.1 L691.0,542.9 L691.8,538.4 L692.7,530.5 L693.5,530.9 L694.4,534.5 L695.2,538.8 L696.1,539.1 L696.9,538.7 L697.8,539.1 L698.6,538.5 L699.4,536.5 L700.3,533.9 L701.1,532.3 L702.0,533.7 L702.8,536.9 L703.7,541.2 L704.5,546.2 L705.4,551.8 L706.2,550.6 L707.1,546.1 L707.9,541.4 L708.7,538.5 L709.6,533.9 L710.4,528.6 L711.3,523.5 L712.1,517.3 L713.0,511.6 L713.8,510.5 L714.7,511.7 L715.5,514.8 L716.3,517.8 L717.2,520.7 L718.0,522.9 L718.9,531.1 L719.7,538.6 L720.6,543.3 L721.4,546.2 L722.3,548.2 L723.1,548.7 L724.0,547.4 L724.8,544.6 L725.6,542.3 L726.5,543.3 L727.3,545.7 L728.2,547.8 L729.0,548.6 L729.9,549.0 L730.7,548.2 L731.6,547.4 L732.4,550.1 L733.2,552.9 L734.1,553.4 L734.9,550.9 L735.8,546.3 L736.6,540.4 L737.5,534.0 L738.3,528.4 L739.2,528.3 L740.0,530.1 L740.9,532.4 L741.7,534.4 L742.5,535.1 L743.4,534.7 L744.2,534.5 L745.1,532.5 L745.9,529.6 L746.8,529.5 L747.6,527.2 L748.5,519.2 L749.3,516.7 L750.1,515.2 L751.0,518.8 L751.8,524.4 L752.7,529.2 L753.5,531.9 L754.4,533.8 L755.2,535.5 L756.1,535.3 L756.9,537.7 L757.8,539.9 L758.6,540.4 L759.4,540.3 L760.3,539.6 L761.1,538.9 L762.0,537.6 L762.8,535.0 L763.7,531.1 L764.5,527.2 L765.4,525.3 L766.2,524.7 L767.0,524.4 L767.9,524.3 L768.7,525.1 L769.6,525.6 L770.4,523.7 L771.3,524.3 L772.1,526.4 L773.0,527.8 L773.8,530.1 L774.7,532.9 L775.5,537.7 L776.3,543.1 L777.2,546.9 L778.0,546.6 L778.9,546.0 L779.7,546.5 L780.6,548.2 L781.4,550.4 L782.3,553.4 L783.1,557.2 L783.9,558.4 L784.8,554.2 L785.6,543.9 L786.5,535.6 L787.3,532.1 L788.2,527.5 L789.0,523.3 L789.9,520.1 L790.7,517.8 L791.6,517.1 L792.4,520.1 L793.2,524.1 L794.1,529.4 L794.9,535.1 L795.8,540.4 L796.6,544.1 L797.5,544.1 L798.3,544.0 L799.2,544.0 L800.0,544.0 L800.8,544.2 L801.7,545.3 L802.5,549.7 L803.4,555.3 L804.2,559.8 L805.1,560.4 L805.9,558.8 L806.8,557.1 L807.6,557.4 L808.5,558.2 L809.3,561.3 L810.1,563.0 L811.0,559.9 L811.8,558.6 L812.7,558.0 L813.5,558.7 L814.4,554.0 L815.2,548.2 L816.1,545.0 L816.9,545.3 L817.7,547.1 L818.6,546.1 L819.4,545.8 L820.3,547.5 L821.1,549.9 L822.0,552.4 L822.8,551.8 L823.7,549.0 L824.5,547.2 L825.4,545.7 L826.2,543.7 L827.0,541.9 L827.9,542.8 L828.7,543.6 L829.6,541.7 L830.4,539.3 L831.3,538.1 L832.1,536.9 L833.0,535.2 L833.8,534.2 L834.6,534.1 L835.5,534.1 L836.3,530.5 L837.2,525.9 L838.0,523.1 L838.9,525.0 L839.7,529.3 L840.6,534.2 L841.4,538.8 L842.3,542.6 L843.1,545.7 L843.9,547.9 L844.8,549.4 L845.6,550.7 L846.5,551.3 L847.3,551.5 L848.2,551.8 L849.0,550.4 L849.9,546.9 L850.7,542.3 L851.5,537.7 L852.4,534.1 L853.2,531.0 L854.1,528.0 L854.9,525.6 L855.8,525.4 L856.6,524.7 L857.5,522.2 L858.3,534.7 L859.2,543.7 L860.0,549.0 L860.8,551.8 L861.7,559.9 L862.5,563.0 L863.4,562.9 L864.2,559.6 L865.1,554.5 L865.9,550.0 L866.8,546.5 L867.6,542.0 L868.4,538.3 L869.3,536.2 L870.1,534.6 L871.0,532.5 L871.8,531.1 L872.7,530.2 L873.5,528.4 L874.4,526.8 L875.2,520.6 L876.1,517.4 L876.9,516.4 L877.7,517.0 L878.6,517.8 L879.4,517.5 L880.3,516.3 L881.1,514.4 L882.0,512.7 L882.8,511.5 L883.7,511.5 L884.5,512.0 L885.3,513.1 L886.2,514.0 L887.0,514.0 L887.9,513.5 L888.7,513.9 L889.6,513.0 L890.4,513.1 L891.3,514.0 L892.1,516.1 L893.0,519.3 L893.8,523.8 L894.6,526.6 L895.5,525.9 L896.3,521.9 L897.2,524.8 L898.0,528.8 L898.9,532.9 L899.7,536.8 L900.6,541.0 L901.4,545.4 L902.2,548.8 L903.1,549.2 L903.9,547.2 L904.8,544.2 L905.6,544.0 L906.5,544.9 L907.3,546.0 L908.2,545.8 L909.0,543.9 L909.9,542.1 L910.7,541.4 L911.5,539.7 L912.4,535.3 L913.2,535.8 L914.1,539.0 L914.9,543.1 L915.8,543.8 L916.6,542.8 L917.5,540.9 L918.3,538.2 L919.1,539.7 L920.0,541.5 L920.8,543.9 L921.7,545.3 L922.5,546.7 L923.4,546.8 L924.2,545.9 L925.1,549.1 L925.9,551.1 L926.8,550.3 L927.6,548.3 L928.4,545.7 L929.3,543.2 L930.1,541.8 L931.0,542.6 L931.8,544.3 L932.7,546.6 L933.5,547.7 L934.4,547.2 L935.2,545.9 L936.0,543.9 L936.9,541.5 L937.7,538.7 L938.6,535.1 L939.4,530.9 L940.3,526.8 L941.1,524.1 L942.0,522.7 L942.8,522.2 L943.7,522.5 L944.5,523.8 L945.3,526.5 L946.2,534.1 L947.0,540.4 L947.9,545.7 L948.7,548.5 L949.6,550.3 L950.4,550.0 L951.3,549.9 L952.1,547.6 L952.9,542.9 L953.8,541.0 L954.6,540.4 L955.5,540.8 L956.3,541.6 L957.2,542.7 L958.0,543.8 L958.9,544.5 L959.7,543.4 L960.6,541.0 L961.4,539.0 L962.2,540.3 L963.1,543.1 L963.9,545.1 L964.8,544.1 L965.6,536.5 L966.5,531.0 L967.3,522.7 L968.2,519.6 L969.0,520.4 L969.8,522.2 L970.7,524.0 L971.5,528.3 L972.4,533.5 L973.2,538.0 L974.1,542.4 L974.9,545.0 L975.8,545.6 L976.6,543.9 L977.5,542.4 L978.3,541.8 L979.1,542.7 L980.0,544.5 L980.8,546.7 L981.7,549.1 L982.5,550.6 L983.4,550.8 L984.2,551.5 L985.1,552.5 L985.9,553.4 L986.7,552.2 L987.6,548.9 L988.4,544.7 L989.3,541.9 L990.1,540.4 L991.0,540.3 L991.8,540.1 L992.7,538.1 L993.5,535.7 L994.4,534.7 L995.2,536.1 L996.0,538.4 L996.9,537.2 L997.7,531.5 L998.6,523.4 L999.4,516.0 L1000.3,511.9 L1001.1,509.0 L1002.0,510.0 L1002.8,516.0 L1003.6,522.9 L1004.5,529.8 L1005.3,532.7 L1006.2,533.1 L1007.0,534.9 L1007.9,538.2 L1008.7,541.5 L1009.6,544.7 L1010.4,545.2 L1011.3,542.9 L1012.1,541.4 L1012.9,538.4 L1013.8,532.9 L1014.6,527.7 L1015.5,529.5 L1016.3,532.7 L1017.2,537.8 L1018.0,542.9 L1018.9,546.2 L1019.7,548.1 L1020.5,550.6 L1021.4,555.3 L1022.2,556.4 L1023.1,554.9 L1023.9,552.8 L1024.8,550.9 L1025.6,545.9 L1026.5,538.5 L1027.3,530.2 L1028.2,525.7 L1029.0,524.7 L1029.8,520.9 L1030.7,516.1 L1031.5,515.8 L1032.4,517.9 L1033.2,522.3 L1034.1,525.5 L1034.9,528.2 L1035.8,530.8 L1036.6,531.4 L1037.4,531.2 L1038.3,533.5 L1039.1,537.0 L1040.0,540.6 L1040.8,543.1 L1041.7,542.0 L1042.5,542.2 L1043.4,543.8 L1044.2,546.2 L1045.1,548.6 L1045.9,550.3 L1046.7,551.3 L1047.6,551.2 L1048.4,549.3 L1049.3,547.0 L1050.1,542.5 L1051.0,535.9 L1051.8,527.4 L1052.7,518.3 L1053.5,511.6 L1054.3,506.6 L1055.2,503.5 L1056.0,502.5 L1056.9,502.8 L1057.7,503.8 L1058.6,506.0 L1059.4,511.4 L1060.3,518.4 L1061.1,525.9 L1062.0,533.1 L1062.8,541.9 L1063.6,549.6 L1064.5,555.5 L1065.3,558.2 L1066.2,559.9 L1067.0,562.8 L1067.9,564.5 L1068.7,562.6 L1069.6,558.4 L1070.4,554.5 L1071.2,550.7 L1072.1,546.4 L1072.9,547.8 L1073.8,550.6 L1074.6,551.5 L1075.5,545.2 L1076.3,537.5 L1077.2,535.3 L1078.0,541.9 L1078.9,548.6 L1079.7,552.9 L1080.5,555.9 L1081.4,554.9 L1082.2,551.5 L1083.1,548.6 L1083.9,546.3 L1084.8,545.0 L1085.6,544.6 L1086.5,543.0 L1087.3,540.4 L1088.1,537.6 L1089.0,539.0 L1089.8,542.4 L1090.7,545.7 L1091.5,547.4 L1092.4,543.9 L1093.2,535.6 L1094.1,530.1 L1094.9,527.8 L1095.8,526.0 L1096.6,524.6 L1097.4,522.9 L1098.3,520.9 L1099.1,519.0 L1100.0,517.9 L1100.8,517.4 L1101.7,517.6 L1102.5,517.8 L1103.4,517.5 L1104.2,518.4 L1105.0,520.3 L1105.9,521.4 L1106.7,521.9 L1107.6,523.3 L1108.4,532.6 L1109.3,542.8 L1110.1,551.9 L1111.0,557.5 L1111.8,563.6 L1112.7,569.0 L1113.5,567.9 L1114.3,564.0 L1115.2,560.5 L1116.0,557.3 L1116.9,555.7 L1117.7,554.6 L1118.6,553.8 L1119.4,552.5 L1120.3,550.8 L1121.1,548.4 L1121.9,546.3 L1122.8,543.6 L1123.6,540.5 L1124.5,537.0 L1125.3,535.4 L1126.2,535.4 L1127.0,535.4 L1127.9,533.1 L1128.7,529.6 L1129.6,527.4 L1130.4,527.1 L1131.2,526.8 L1132.1,526.0 L1132.9,525.3 L1133.8,525.7 L1134.6,527.5 L1135.5,530.9 L1136.3,531.9 L1137.2,530.9 L1138.0,531.3 L1138.0,537.5 L48.8,537.5 Z" fill="#FFD9BE" stroke="none" shape-rendering="geometricPrecision"/>
<path d="M48.8,537.5 L49.6,540.1 L50.5,542.3 L51.3,540.3 L52.2,538.6 L53.0,537.3 L53.9,534.4 L54.7,531.0 L55.6,531.4 L56.4,533.8 L57.2,536.9 L58.1,540.8 L58.9,541.8 L59.8,542.2 L60.6,543.4 L61.5,545.2 L62.3,545.6 L63.2,545.0 L64.0,543.8 L64.9,542.9 L65.7,542.5 L66.5,542.4 L67.4,542.9 L68.2,543.2 L69.1,542.8 L69.9,541.2 L70.8,539.6 L71.6,538.4 L72.5,538.1 L73.3,537.9 L74.1,537.6 L75.0,536.7 L75.8,535.9 L76.7,534.5 L77.5,533.1 L78.4,532.5 L79.2,532.7 L80.1,532.9 L80.9,533.3 L81.8,534.3 L82.6,534.3 L83.4,531.9 L84.3,532.2 L85.1,533.8 L86.0,535.6 L86.8,537.6 L87.7,539.6 L88.5,540.9 L89.4,540.4 L90.2,537.4 L91.0,534.0 L91.9,532.0 L92.7,531.1 L93.6,529.8 L94.4,528.1 L95.3,526.1 L96.1,526.8 L97.0,529.1 L97.8,531.5 L98.7,533.6 L99.5,535.2 L100.3,537.2 L101.2,538.6 L102.0,537.8 L102.9,537.0 L103.7,537.7 L104.6,538.2 L105.4,539.3 L106.3,540.4 L107.1,541.6 L107.9,542.2 L108.8,542.8 L109.6,543.6 L110.5,544.9 L111.3,546.3 L112.2,544.6 L113.0,542.3 L113.9,540.9 L114.7,540.2 L115.6,539.3 L116.4,537.9 L117.2,536.0 L118.1,534.4 L118.9,534.5 L119.8,535.3 L120.6,536.8 L121.5,537.6 L122.3,538.8 L123.2,540.1 L124.0,541.7 L124.8,544.0 L125.7,546.0 L126.5,546.9 L127.4,547.7 L128.2,546.0 L129.1,542.9 L129.9,540.8 L130.8,538.0 L131.6,536.1 L132.5,535.6 L133.3,535.8 L134.1,535.5 L135.0,535.3 L135.8,535.2 L136.7,535.8 L137.5,536.7 L138.4,537.5 L139.2,538.4 L140.1,539.0 L140.9,540.2 L141.7,542.3 L142.6,545.4 L143.4,546.9 L144.3,546.3 L145.1,544.8 L146.0,542.0 L146.8,540.0 L147.7,538.2 L148.5,536.1 L149.4,532.0 L150.2,527.5 L151.0,524.0 L151.9,522.5 L152.7,522.6 L153.6,522.9 L154.4,522.5 L155.3,522.9 L156.1,524.8 L157.0,526.7 L157.8,527.3 L158.6,526.0 L159.5,523.2 L160.3,523.2 L161.2,525.7 L162.0,529.5 L162.9,532.7 L163.7,534.6 L164.6,535.4 L165.4,535.6 L166.3,534.5 L167.1,533.5 L167.9,532.6 L168.8,532.3 L169.6,533.2 L170.5,535.1 L171.3,537.5 L172.2,538.9 L173.0,540.5 L173.9,542.1 L174.7,544.4 L175.5,546.9 L176.4,547.8 L177.2,547.8 L178.1,546.5 L178.9,545.2 L179.8,543.9 L180.6,542.1 L181.5,539.2 L182.3,536.0 L183.2,533.1 L184.0,531.0 L184.8,529.0 L185.7,527.2 L186.5,525.4 L187.4,523.6 L188.2,522.7 L189.1,522.2 L189.9,523.0 L190.8,523.9 L191.6,526.3 L192.4,529.6 L193.3,534.4 L194.1,538.8 L195.0,543.6 L195.8,547.5 L196.7,550.0 L197.5,551.8 L198.4,552.4 L199.2,551.6 L200.1,550.2 L200.9,548.8 L201.7,547.3 L202.6,546.6 L203.4,545.9 L204.3,546.2 L205.1,545.9 L206.0,545.5 L206.8,544.5 L207.7,543.3 L208.5,542.8 L209.3,542.3 L210.2,541.0 L211.0,539.5 L211.9,535.2 L212.7,530.8 L213.6,526.6 L214.4,526.6 L215.3,527.8 L216.1,529.0 L217.0,530.1 L217.8,530.3 L218.6,529.0 L219.5,527.7 L220.3,529.7 L221.2,530.7 L222.0,531.3 L222.9,531.0 L223.7,531.4 L224.6,532.3 L225.4,534.7 L226.2,537.7 L227.1,540.6 L227.9,543.3 L228.8,545.9 L229.6,548.0 L230.5,548.0 L231.3,547.2 L232.2,545.3 L233.0,544.7 L233.9,544.1 L234.7,542.6 L235.5,541.4 L236.4,541.8 L237.2,543.2 L238.1,544.9 L238.9,546.0 L239.8,545.4 L240.6,543.5 L241.5,541.7 L242.3,541.0 L243.1,540.9 L244.0,541.5 L244.8,541.7 L245.7,540.9 L246.5,539.6 L247.4,538.2 L248.2,535.9 L249.1,534.0 L249.9,531.6 L250.8,530.4 L251.6,531.0 L252.4,530.6 L253.3,529.6 L254.1,528.6 L255.0,527.8 L255.8,527.1 L256.7,528.4 L257.5,529.8 L258.4,530.2 L259.2,529.9 L260.0,530.9 L260.9,533.3 L261.7,535.5 L262.6,537.2 L263.4,538.3 L264.3,538.6 L265.1,538.9 L266.0,538.5 L266.8,537.6 L267.7,534.3 L268.5,531.9 L269.3,529.9 L270.2,528.9 L271.0,528.9 L271.9,529.2 L272.7,530.6 L273.6,532.6 L274.4,533.8 L275.3,535.0 L276.1,537.3 L276.9,541.6 L277.8,547.7 L278.6,554.2 L279.5,556.0 L280.3,555.2 L281.2,553.2 L282.0,550.3 L282.9,547.0 L283.7,544.3 L284.6,543.6 L285.4,542.6 L286.2,540.9 L287.1,539.2 L287.9,538.5 L288.8,539.4 L289.6,540.6 L290.5,542.9 L291.3,544.8 L292.2,544.9 L293.0,543.7 L293.8,543.2 L294.7,543.1 L295.5,544.2 L296.4,546.0 L297.2,548.6 L298.1,548.7 L298.9,545.8 L299.8,542.6 L300.6,539.7 L301.5,537.7 L302.3,537.0 L303.1,536.7 L304.0,536.8 L304.8,536.5 L305.7,535.2 L306.5,533.9 L307.4,532.8 L308.2,531.9 L309.1,530.8 L309.9,530.1 L310.7,528.8 L311.6,527.8 L312.4,527.0 L313.3,526.1 L314.1,526.5 L315.0,527.1 L315.8,527.0 L316.7,530.3 L317.5,534.1 L318.4,535.4 L319.2,535.7 L320.0,535.5 L320.9,534.7 L321.7,534.0 L322.6,534.3 L323.4,535.8 L324.3,535.7 L325.1,534.5 L326.0,532.3 L326.8,530.1 L327.6,528.0 L328.5,526.6 L329.3,527.4 L330.2,529.2 L331.0,529.9 L331.9,529.0 L332.7,527.7 L333.6,526.0 L334.4,527.6 L335.3,531.0 L336.1,534.6 L336.9,534.8 L337.8,534.7 L338.6,535.7 L339.5,536.6 L340.3,535.3 L341.2,532.4 L342.0,529.9 L342.9,526.0 L343.7,522.8 L344.5,521.4 L345.4,521.5 L346.2,525.9 L347.1,533.7 L347.9,538.9 L348.8,538.0 L349.6,537.3 L350.5,538.2 L351.3,537.8 L352.2,537.6 L353.0,537.2 L353.8,536.8 L354.7,538.0 L355.5,537.4 L356.4,539.6 L357.2,540.3 L358.1,541.7 L358.9,545.3 L359.8,554.0 L360.6,560.6 L361.4,564.9 L362.3,563.5 L363.1,561.4 L364.0,557.9 L364.8,553.8 L365.7,548.8 L366.5,543.4 L367.4,542.5 L368.2,541.7 L369.1,543.1 L369.9,542.3 L370.7,539.1 L371.6,534.5 L372.4,530.8 L373.3,532.7 L374.1,538.4 L375.0,541.3 L375.8,540.2 L376.7,538.9 L377.5,540.0 L378.3,544.5 L379.2,545.2 L380.0,544.0 L380.9,542.2 L381.7,540.1 L382.6,537.6 L383.4,534.7 L384.3,531.4 L385.1,528.5 L386.0,528.6 L386.8,529.9 L387.6,532.8 L388.5,535.6 L389.3,536.5 L390.2,535.8 L391.0,535.6 L391.9,536.4 L392.7,535.6 L393.6,529.6 L394.4,528.6 L395.2,531.1 L396.1,533.8 L396.9,536.3 L397.8,538.6 L398.6,540.8 L399.5,542.6 L400.3,541.3 L401.2,538.3 L402.0,536.4 L402.9,536.4 L403.7,537.4 L404.5,539.0 L405.4,540.6 L406.2,538.9 L407.1,533.7 L407.9,529.7 L408.8,529.0 L409.6,530.5 L410.5,533.0 L411.3,536.0 L412.1,536.9 L413.0,534.6 L413.8,533.7 L414.7,535.9 L415.5,539.5 L416.4,543.1 L417.2,545.7 L418.1,546.5 L418.9,546.7 L419.8,544.8 L420.6,537.2 L421.4,534.7 L422.3,533.1 L423.1,530.9 L424.0,525.4 L424.8,522.4 L425.7,524.8 L426.5,527.1 L427.4,528.1 L428.2,528.0 L429.0,526.9 L429.9,525.0 L430.7,522.8 L431.6,520.5 L432.4,520.8 L433.3,524.6 L434.1,526.2 L435.0,522.5 L435.8,520.9 L436.7,522.8 L437.5,524.2 L438.3,522.9 L439.2,519.7 L440.0,523.6 L440.9,534.2 L441.7,543.2 L442.6,551.1 L443.4,557.1 L444.3,556.7 L445.1,551.0 L445.9,542.9 L446.8,535.6 L447.6,530.2 L448.5,526.7 L449.3,524.7 L450.2,523.8 L451.0,527.6 L451.9,534.1 L452.7,536.6 L453.6,532.6 L454.4,531.8 L455.2,532.5 L456.1,534.5 L456.9,536.0 L457.8,535.4 L458.6,539.3 L459.5,539.4 L460.3,539.5 L461.2,540.4 L462.0,538.4 L462.8,539.3 L463.7,542.8 L464.5,548.8 L465.4,557.1 L466.2,565.6 L467.1,567.0 L467.9,563.7 L468.8,563.7 L469.6,563.8 L470.5,563.9 L471.3,560.4 L472.1,554.2 L473.0,546.3 L473.8,543.3 L474.7,545.3 L475.5,548.2 L476.4,547.7 L477.2,545.2 L478.1,540.9 L478.9,535.2 L479.7,530.9 L480.6,532.0 L481.4,532.2 L482.3,531.4 L483.1,529.0 L484.0,525.4 L484.8,521.6 L485.7,518.5 L486.5,515.7 L487.4,520.2 L488.2,526.9 L489.0,531.4 L489.9,532.0 L490.7,532.1 L491.6,534.5 L492.4,541.6 L493.3,550.4 L494.1,551.7 L495.0,546.9 L495.8,544.2 L496.6,544.7 L497.5,545.4 L498.3,544.4 L499.2,550.4 L500.0,559.6 L500.9,566.6 L501.7,568.7 L502.6,564.1 L503.4,554.3 L504.3,544.5 L505.1,545.0 L505.9,542.3 L506.8,539.5 L507.6,541.9 L508.5,547.8 L509.3,542.2 L510.2,540.5 L511.0,540.8 L511.9,539.4 L512.7,543.0 L513.5,550.1 L514.4,550.4 L515.2,545.6 L516.1,539.7 L516.9,538.4 L517.8,534.6 L518.6,530.2 L519.5,527.2 L520.3,519.3 L521.2,516.1 L522.0,513.5 L522.8,510.1 L523.7,507.6 L524.5,511.4 L525.4,514.9 L526.2,519.2 L527.1,526.3 L527.9,530.6 L528.8,532.3 L529.6,533.0 L530.4,539.8 L531.3,541.9 L532.1,542.0 L533.0,544.6 L533.8,539.7 L534.7,537.8 L535.5,535.3 L536.4,531.0 L537.2,525.5 L538.1,510.8 L538.9,502.2 L539.7,500.2 L540.6,499.5 L541.4,502.9 L542.3,510.5 L543.1,522.4 L544.0,536.1 L544.8,541.6 L545.7,541.6 L546.5,552.9 L547.3,573.1 L548.2,584.0 L549.0,588.0 L549.9,584.8 L550.7,577.8 L551.6,570.5 L552.4,566.6 L553.3,566.3 L554.1,566.7 L555.0,566.3 L555.8,563.6 L556.6,562.3 L557.5,568.3 L558.3,566.6 L559.2,560.4 L560.0,554.7 L560.9,551.2 L561.7,545.3 L562.6,532.1 L563.4,523.3 L564.2,517.6 L565.1,513.0 L565.9,509.2 L566.8,507.6 L567.6,510.3 L568.5,514.3 L569.3,517.6 L570.2,522.9 L571.0,529.4 L571.9,536.5 L572.7,542.5 L573.5,544.0 L574.4,542.1 L575.2,541.8 L576.1,544.9 L576.9,544.4 L577.8,540.7 L578.6,534.0 L579.5,528.9 L580.3,524.7 L581.1,521.3 L582.0,517.6 L582.8,514.0 L583.7,516.0 L584.5,515.2 L585.4,519.6 L586.2,528.4 L587.1,540.8 L587.9,554.3 L588.8,565.1 L589.6,568.2 L590.4,568.2 L591.3,568.3 L592.1,569.8 L593.0,572.2 L593.8,569.6 L594.7,560.6 L595.5,550.9 L596.4,543.6 L597.2,538.8 L598.0,530.6 L598.9,522.1 L599.7,516.7 L600.6,515.8 L601.4,520.2 L602.3,525.1 L603.1,530.2 L604.0,534.7 L604.8,536.1 L605.7,539.0 L606.5,539.4 L607.3,536.6 L608.2,537.3 L609.0,539.6 L609.9,541.6 L610.7,541.1 L611.6,539.7 L612.4,538.0 L613.3,536.3 L614.1,535.1 L614.9,535.8 L615.8,537.7 L616.6,540.0 L617.5,543.0 L618.3,546.0 L619.2,550.4 L620.0,563.3 L620.9,574.1 L621.7,577.1 L622.6,581.5 L623.4,583.7 L624.2,583.8 L625.1,579.9 L625.9,573.3 L626.8,568.9 L627.6,562.4 L628.5,554.8 L629.3,549.9 L630.2,544.9 L631.0,539.2 L631.8,536.6 L632.7,536.8 L633.5,537.5 L634.4,534.7 L635.2,530.9 L636.1,529.3 L636.9,525.6 L637.8,524.9 L638.6,526.2 L639.5,523.8 L640.3,525.2 L641.1,516.5 L642.0,506.3 L642.8,497.2 L643.7,491.2 L644.5,489.9 L645.4,492.5 L646.2,496.5 L647.1,501.9 L647.9,510.3 L648.7,518.1 L649.6,524.3 L650.4,527.1 L651.3,527.7 L652.1,528.4 L653.0,530.3 L653.8,532.7 L654.7,533.4 L655.5,532.0 L656.4,532.5 L657.2,534.0 L658.0,535.5 L658.9,536.9 L659.7,538.8 L660.6,542.2 L661.4,547.4 L662.3,552.7 L663.1,559.5 L664.0,565.7 L664.8,568.2 L665.6,567.4 L666.5,564.4 L667.3,560.8 L668.2,558.3 L669.0,557.2 L669.9,556.6 L670.7,552.7 L671.6,546.6 L672.4,539.0 L673.3,530.3 L674.1,521.1 L674.9,515.7 L675.8,515.5 L676.6,515.5 L677.5,515.0 L678.3,515.0 L679.2,517.0 L680.0,519.2 L680.9,521.4 L681.7,525.3 L682.5,529.8 L683.4,533.2 L684.2,535.0 L685.1,535.3 L685.9,534.9 L686.8,537.1 L687.6,539.1 L688.5,537.4 L689.3,539.1 L690.2,543.1 L691.0,542.9 L691.8,538.4 L692.7,530.5 L693.5,530.9 L694.4,534.5 L695.2,538.8 L696.1,539.1 L696.9,538.7 L697.8,539.1 L698.6,538.5 L699.4,536.5 L700.3,533.9 L701.1,532.3 L702.0,533.7 L702.8,536.9 L703.7,541.2 L704.5,546.2 L705.4,551.8 L706.2,550.6 L707.1,546.1 L707.9,541.4 L708.7,538.5 L709.6,533.9 L710.4,528.6 L711.3,523.5 L712.1,517.3 L713.0,511.6 L713.8,510.5 L714.7,511.7 L715.5,514.8 L716.3,517.8 L717.2,520.7 L718.0,522.9 L718.9,531.1 L719.7,538.6 L720.6,543.3 L721.4,546.2 L722.3,548.2 L723.1,548.7 L724.0,547.4 L724.8,544.6 L725.6,542.3 L726.5,543.3 L727.3,545.7 L728.2,547.8 L729.0,548.6 L729.9,549.0 L730.7,548.2 L731.6,547.4 L732.4,550.1 L733.2,552.9 L734.1,553.4 L734.9,550.9 L735.8,546.3 L736.6,540.4 L737.5,534.0 L738.3,528.4 L739.2,528.3 L740.0,530.1 L740.9,532.4 L741.7,534.4 L742.5,535.1 L743.4,534.7 L744.2,534.5 L745.1,532.5 L745.9,529.6 L746.8,529.5 L747.6,527.2 L748.5,519.2 L749.3,516.7 L750.1,515.2 L751.0,518.8 L751.8,524.4 L752.7,529.2 L753.5,531.9 L754.4,533.8 L755.2,535.5 L756.1,535.3 L756.9,537.7 L757.8,539.9 L758.6,540.4 L759.4,540.3 L760.3,539.6 L761.1,538.9 L762.0,537.6 L762.8,535.0 L763.7,531.1 L764.5,527.2 L765.4,525.3 L766.2,524.7 L767.0,524.4 L767.9,524.3 L768.7,525.1 L769.6,525.6 L770.4,523.7 L771.3,524.3 L772.1,526.4 L773.0,527.8 L773.8,530.1 L774.7,532.9 L775.5,537.7 L776.3,543.1 L777.2,546.9 L778.0,546.6 L778.9,546.0 L779.7,546.5 L780.6,548.2 L781.4,550.4 L782.3,553.4 L783.1,557.2 L783.9,558.4 L784.8,554.2 L785.6,543.9 L786.5,535.6 L787.3,532.1 L788.2,527.5 L789.0,523.3 L789.9,520.1 L790.7,517.8 L791.6,517.1 L792.4,520.1 L793.2,524.1 L794.1,529.4 L794.9,535.1 L795.8,540.4 L796.6,544.1 L797.5,544.1 L798.3,544.0 L799.2,544.0 L800.0,544.0 L800.8,544.2 L801.7,545.3 L802.5,549.7 L803.4,555.3 L804.2,559.8 L805.1,560.4 L805.9,558.8 L806.8,557.1 L807.6,557.4 L808.5,558.2 L809.3,561.3 L810.1,563.0 L811.0,559.9 L811.8,558.6 L812.7,558.0 L813.5,558.7 L814.4,554.0 L815.2,548.2 L816.1,545.0 L816.9,545.3 L817.7,547.1 L818.6,546.1 L819.4,545.8 L820.3,547.5 L821.1,549.9 L822.0,552.4 L822.8,551.8 L823.7,549.0 L824.5,547.2 L825.4,545.7 L826.2,543.7 L827.0,541.9 L827.9,542.8 L828.7,543.6 L829.6,541.7 L830.4,539.3 L831.3,538.1 L832.1,536.9 L833.0,535.2 L833.8,534.2 L834.6,534.1 L835.5,534.1 L836.3,530.5 L837.2,525.9 L838.0,523.1 L838.9,525.0 L839.7,529.3 L840.6,534.2 L841.4,538.8 L842.3,542.6 L843.1,545.7 L843.9,547.9 L844.8,549.4 L845.6,550.7 L846.5,551.3 L847.3,551.5 L848.2,551.8 L849.0,550.4 L849.9,546.9 L850.7,542.3 L851.5,537.7 L852.4,534.1 L853.2,531.0 L854.1,528.0 L854.9,525.6 L855.8,525.4 L856.6,524.7 L857.5,522.2 L858.3,534.7 L859.2,543.7 L860.0,549.0 L860.8,551.8 L861.7,559.9 L862.5,563.0 L863.4,562.9 L864.2,559.6 L865.1,554.5 L865.9,550.0 L866.8,546.5 L867.6,542.0 L868.4,538.3 L869.3,536.2 L870.1,534.6 L871.0,532.5 L871.8,531.1 L872.7,530.2 L873.5,528.4 L874.4,526.8 L875.2,520.6 L876.1,517.4 L876.9,516.4 L877.7,517.0 L878.6,517.8 L879.4,517.5 L880.3,516.3 L881.1,514.4 L882.0,512.7 L882.8,511.5 L883.7,511.5 L884.5,512.0 L885.3,513.1 L886.2,514.0 L887.0,514.0 L887.9,513.5 L888.7,513.9 L889.6,513.0 L890.4,513.1 L891.3,514.0 L892.1,516.1 L893.0,519.3 L893.8,523.8 L894.6,526.6 L895.5,525.9 L896.3,521.9 L897.2,524.8 L898.0,528.8 L898.9,532.9 L899.7,536.8 L900.6,541.0 L901.4,545.4 L902.2,548.8 L903.1,549.2 L903.9,547.2 L904.8,544.2 L905.6,544.0 L906.5,544.9 L907.3,546.0 L908.2,545.8 L909.0,543.9 L909.9,542.1 L910.7,541.4 L911.5,539.7 L912.4,535.3 L913.2,535.8 L914.1,539.0 L914.9,543.1 L915.8,543.8 L916.6,542.8 L917.5,540.9 L918.3,538.2 L919.1,539.7 L920.0,541.5 L920.8,543.9 L921.7,545.3 L922.5,546.7 L923.4,546.8 L924.2,545.9 L925.1,549.1 L925.9,551.1 L926.8,550.3 L927.6,548.3 L928.4,545.7 L929.3,543.2 L930.1,541.8 L931.0,542.6 L931.8,544.3 L932.7,546.6 L933.5,547.7 L934.4,547.2 L935.2,545.9 L936.0,543.9 L936.9,541.5 L937.7,538.7 L938.6,535.1 L939.4,530.9 L940.3,526.8 L941.1,524.1 L942.0,522.7 L942.8,522.2 L943.7,522.5 L944.5,523.8 L945.3,526.5 L946.2,534.1 L947.0,540.4 L947.9,545.7 L948.7,548.5 L949.6,550.3 L950.4,550.0 L951.3,549.9 L952.1,547.6 L952.9,542.9 L953.8,541.0 L954.6,540.4 L955.5,540.8 L956.3,541.6 L957.2,542.7 L958.0,543.8 L958.9,544.5 L959.7,543.4 L960.6,541.0 L961.4,539.0 L962.2,540.3 L963.1,543.1 L963.9,545.1 L964.8,544.1 L965.6,536.5 L966.5,531.0 L967.3,522.7 L968.2,519.6 L969.0,520.4 L969.8,522.2 L970.7,524.0 L971.5,528.3 L972.4,533.5 L973.2,538.0 L974.1,542.4 L974.9,545.0 L975.8,545.6 L976.6,543.9 L977.5,542.4 L978.3,541.8 L979.1,542.7 L980.0,544.5 L980.8,546.7 L981.7,549.1 L982.5,550.6 L983.4,550.8 L984.2,551.5 L985.1,552.5 L985.9,553.4 L986.7,552.2 L987.6,548.9 L988.4,544.7 L989.3,541.9 L990.1,540.4 L991.0,540.3 L991.8,540.1 L992.7,538.1 L993.5,535.7 L994.4,534.7 L995.2,536.1 L996.0,538.4 L996.9,537.2 L997.7,531.5 L998.6,523.4 L999.4,516.0 L1000.3,511.9 L1001.1,509.0 L1002.0,510.0 L1002.8,516.0 L1003.6,522.9 L1004.5,529.8 L1005.3,532.7 L1006.2,533.1 L1007.0,534.9 L1007.9,538.2 L1008.7,541.5 L1009.6,544.7 L1010.4,545.2 L1011.3,542.9 L1012.1,541.4 L1012.9,538.4 L1013.8,532.9 L1014.6,527.7 L1015.5,529.5 L1016.3,532.7 L1017.2,537.8 L1018.0,542.9 L1018.9,546.2 L1019.7,548.1 L1020.5,550.6 L1021.4,555.3 L1022.2,556.4 L1023.1,554.9 L1023.9,552.8 L1024.8,550.9 L1025.6,545.9 L1026.5,538.5 L1027.3,530.2 L1028.2,525.7 L1029.0,524.7 L1029.8,520.9 L1030.7,516.1 L1031.5,515.8 L1032.4,517.9 L1033.2,522.3 L1034.1,525.5 L1034.9,528.2 L1035.8,530.8 L1036.6,531.4 L1037.4,531.2 L1038.3,533.5 L1039.1,537.0 L1040.0,540.6 L1040.8,543.1 L1041.7,542.0 L1042.5,542.2 L1043.4,543.8 L1044.2,546.2 L1045.1,548.6 L1045.9,550.3 L1046.7,551.3 L1047.6,551.2 L1048.4,549.3 L1049.3,547.0 L1050.1,542.5 L1051.0,535.9 L1051.8,527.4 L1052.7,518.3 L1053.5,511.6 L1054.3,506.6 L1055.2,503.5 L1056.0,502.5 L1056.9,502.8 L1057.7,503.8 L1058.6,506.0 L1059.4,511.4 L1060.3,518.4 L1061.1,525.9 L1062.0,533.1 L1062.8,541.9 L1063.6,549.6 L1064.5,555.5 L1065.3,558.2 L1066.2,559.9 L1067.0,562.8 L1067.9,564.5 L1068.7,562.6 L1069.6,558.4 L1070.4,554.5 L1071.2,550.7 L1072.1,546.4 L1072.9,547.8 L1073.8,550.6 L1074.6,551.5 L1075.5,545.2 L1076.3,537.5 L1077.2,535.3 L1078.0,541.9 L1078.9,548.6 L1079.7,552.9 L1080.5,555.9 L1081.4,554.9 L1082.2,551.5 L1083.1,548.6 L1083.9,546.3 L1084.8,545.0 L1085.6,544.6 L1086.5,543.0 L1087.3,540.4 L1088.1,537.6 L1089.0,539.0 L1089.8,542.4 L1090.7,545.7 L1091.5,547.4 L1092.4,543.9 L1093.2,535.6 L1094.1,530.1 L1094.9,527.8 L1095.8,526.0 L1096.6,524.6 L1097.4,522.9 L1098.3,520.9 L1099.1,519.0 L1100.0,517.9 L1100.8,517.4 L1101.7,517.6 L1102.5,517.8 L1103.4,517.5 L1104.2,518.4 L1105.0,520.3 L1105.9,521.4 L1106.7,521.9 L1107.6,523.3 L1108.4,532.6 L1109.3,542.8 L1110.1,551.9 L1111.0,557.5 L1111.8,563.6 L1112.7,569.0 L1113.5,567.9 L1114.3,564.0 L1115.2,560.5 L1116.0,557.3 L1116.9,555.7 L1117.7,554.6 L1118.6,553.8 L1119.4,552.5 L1120.3,550.8 L1121.1,548.4 L1121.9,546.3 L1122.8,543.6 L1123.6,540.5 L1124.5,537.0 L1125.3,535.4 L1126.2,535.4 L1127.0,535.4 L1127.9,533.1 L1128.7,529.6 L1129.6,527.4 L1130.4,527.1 L1131.2,526.8 L1132.1,526.0 L1132.9,525.3 L1133.8,525.7 L1134.6,527.5 L1135.5,530.9 L1136.3,531.9 L1137.2,530.9 L1138.0,531.3" stroke="#FFA07A" stroke-width="1" shape-rendering="geometricPrecision"/>
<path d="M49,537h1v1h-1zM50,538h4v1h-4zM54,537h2v1h-2zM56,536h2v1h-2zM58,537h2v1h-2zM60,538h1v1h-1zM61,539h2v1h-2zM63,540h1v1h-1zM64,541h2v1h-2zM66,542h2v1h-2zM68,543h2v1h-2zM70,544h6v1h-6zM76,543h3v1h-3zM79,542h2v1h-2zM81,541h2v1h-2zM83,540h2v1h-2zM85,539h2v1h-2zM87,540h5v1h-5zM92,539h1v1h-1zM93,538h1v1h-1zM94,537h1v1h-1zM95,536h1v1h-1zM96,535h1v1h-1zM97,534h3v1h-3zM100,533h1v1h-1zM101,534h6v1h-6zM107,535h2v1h-2zM109,536h2v1h-2zM111,537h1v1h-1zM112,538h2v1h-2zM114,539h4v1h-4zM118,538h5v1h-5zM123,539h2v1h-2zM125,540h1v1h-1zM126,541h1v1h-1zM127,542h1v1h-1zM128,543h7v1h-7zM135,542h5v1h-5zM140,543h2v1h-2zM142,544h1v1h-1zM143,545h2v1h-2zM145,546h1v1h-1zM146,547h3v1h-3zM149,546h1v1h-1zM150,545h1v1h-1zM151,543h1v2h-1zM152,542h1v1h-1zM153,540h1v2h-1zM154,539h1v1h-1zM155,537h1v2h-1zM156,536h1v1h-1zM157,535h1v1h-1zM158,534h1v1h-1zM159,532h1v2h-1zM160,531h1v1h-1zM161,530h1v1h-1zM162,529h2v1h-2zM164,528h3v1h-3zM167,527h2v1h-2zM169,526h4v1h-4zM173,527h2v1h-2zM175,528h1v1h-1zM176,529h1v1h-1zM177,530h1v1h-1zM178,531h1v1h-1zM179,532h1v1h-1zM180,533h3v1h-3zM183,532h1v1h-1zM184,531h1v1h-1zM185,530h1v1h-1zM186,529h1v1h-1zM187,528h1v1h-1zM188,526h1v2h-1zM189,524h1v2h-1zM190,523h1v1h-1zM191,522h1v1h-1zM192,521h3v1h-3zM195,522h1v1h-1zM196,523h1v1h-1zM197,524h1v2h-1zM198,526h1v1h-1zM199,527h1v1h-1zM200,528h1v2h-1zM201,530h1v1h-1zM202,531h1v1h-1zM203,532h1v1h-1zM204,533h2v1h-2zM206,534h1v1h-1zM207,535h2v1h-2zM209,536h4v1h-4zM213,535h1v1h-1zM214,534h1v1h-1zM215,533h1v1h-1zM216,532h1v1h-1zM217,531h1v1h-1zM218,530h1v1h-1zM219,529h1v1h-1zM220,528h2v1h-2zM222,527h1v1h-1zM223,526h5v1h-5zM228,527h1v1h-1zM229,528h1v1h-1zM230,529h1v1h-1zM231,530h1v1h-1zM232,531h2v1h-2zM234,532h2v1h-2zM236,533h1v1h-1zM237,534h2v1h-2zM239,535h1v1h-1zM240,536h2v1h-2zM242,537h3v1h-3zM245,538h4v1h-4zM249,537h2v1h-2zM251,536h1v1h-1zM252,535h2v1h-2zM254,534h1v1h-1zM255,533h1v1h-1zM256,532h1v1h-1zM257,531h1v1h-1zM258,530h1v1h-1zM259,529h2v1h-2zM261,528h4v1h-4zM265,529h2v1h-2zM267,528h2v1h-2zM269,527h1v1h-1zM270,526h1v1h-1zM271,525h2v1h-2zM273,524h2v1h-2zM275,523h1v1h-1zM276,524h2v1h-2zM278,525h1v2h-1zM279,527h1v2h-1zM280,529h1v2h-1zM281,531h1v1h-1zM282,532h1v1h-1zM283,533h1v1h-1zM284,534h2v1h-2zM286,535h4v1h-4zM290,536h2v1h-2zM292,537h1v1h-1zM293,538h2v1h-2zM295,539h1v1h-1zM296,540h1v1h-1zM297,541h1v1h-1zM298,542h1v1h-1zM299,543h7v1h-7zM306,542h2v1h-2zM308,541h2v1h-2zM310,540h1v1h-1zM311,539h1v1h-1zM312,538h1v1h-1zM313,536h1v2h-1zM314,535h1v1h-1zM315,534h1v1h-1zM316,533h4v1h-4zM320,532h3v1h-3zM323,531h3v1h-3zM326,530h1v1h-1zM327,529h1v1h-1zM328,528h1v1h-1zM329,527h1v1h-1zM330,526h1v1h-1zM331,525h1v1h-1zM332,524h1v1h-1zM333,523h1v1h-1zM334,522h2v1h-2zM336,521h5v1h-5zM341,520h1v1h-1zM342,519h1v1h-1zM343,518h1v1h-1zM344,516h1v2h-1zM345,514h1v2h-1zM346,513h11v1h-11zM357,514h2v1h-2zM359,515h1v2h-1zM360,517h1v2h-1zM361,519h1v3h-1zM362,522h1v2h-1zM363,524h1v3h-1zM364,527h1v2h-1zM365,529h1v1h-1zM366,530h2v1h-2zM368,531h2v1h-2zM370,532h1v1h-1zM371,531h2v1h-2zM373,530h1v1h-1zM374,531h4v1h-4zM378,532h1v1h-1zM379,533h2v1h-2zM381,534h3v1h-3zM384,533h1v1h-1zM385,532h1v1h-1zM386,531h1v1h-1zM387,530h6v1h-6zM393,529h1v1h-1zM394,528h1v1h-1zM395,527h4v1h-4zM399,528h6v1h-6zM405,529h2v1h-2zM407,528h1v1h-1zM408,527h1v1h-1zM409,526h4v1h-4zM413,525h3v1h-3zM416,526h1v1h-1zM417,527h1v1h-1zM418,528h2v1h-2zM420,529h1v1h-1zM421,528h2v1h-2zM423,527h1v1h-1zM424,525h1v2h-1zM425,524h1v1h-1zM426,523h1v1h-1zM427,522h1v1h-1zM428,521h1v1h-1zM429,520h1v1h-1zM430,518h1v2h-1zM431,517h1v1h-1zM432,515h1v2h-1zM433,514h1v1h-1zM434,512h1v2h-1zM435,511h1v1h-1zM436,509h1v2h-1zM437,508h1v1h-1zM438,506h1v2h-1zM439,504h1v2h-1zM440,503h1v1h-1zM441,504h1v1h-1zM442,505h1v1h-1zM443,506h1v2h-1zM444,508h1v2h-1zM445,510h2v1h-2zM447,509h1v1h-1zM448,508h1v1h-1zM449,507h1v1h-1zM450,506h1v1h-1zM451,505h2v1h-2zM453,504h2v1h-2zM455,503h6v1h-6zM461,504h3v1h-3zM464,505h1v1h-1zM465,506h1v2h-1zM466,508h1v3h-1zM467,511h1v3h-1zM468,514h1v3h-1zM469,517h1v3h-1zM470,520h1v2h-1zM471,522h1v3h-1zM472,525h1v1h-1zM473,526h1v1h-1zM474,527h1v1h-1zM475,528h1v1h-1zM476,529h4v1h-4zM480,528h2v1h-2zM482,527h1v1h-1zM483,526h1v1h-1zM484,525h1v1h-1zM485,523h1v2h-1zM486,520h1v3h-1zM487,519h1v1h-1zM488,518h1v1h-1zM489,517h2v1h-2zM491,516h1v1h-1zM492,517h1v1h-1zM493,518h1v1h-1zM494,519h1v1h-1zM495,520h1v1h-1zM496,521h1v1h-1zM497,522h1v1h-1zM498,523h1v1h-1zM499,524h1v1h-1zM500,525h1v3h-1zM501,528h1v3h-1zM502,531h1v3h-1zM503,534h1v2h-1zM504,535h1v1h-1zM505,536h2v1h-2zM507,537h1v1h-1zM508,538h3v1h-3zM511,539h2v1h-2zM513,540h1v1h-1zM514,541h1v2h-1zM515,542h4v1h-4zM519,541h1v1h-1zM520,539h1v2h-1zM521,536h1v3h-1zM522,534h1v2h-1zM523,531h1v3h-1zM524,528h1v3h-1zM525,526h1v2h-1zM526,524h1v2h-1zM527,523h1v1h-1zM528,522h4v1h-4zM532,523h2v1h-2zM534,524h1v1h-1zM535,523h2v1h-2zM537,521h1v2h-1zM538,518h1v3h-1zM539,514h1v4h-1zM540,510h1v4h-1zM541,507h1v3h-1zM542,504h1v3h-1zM543,503h2v1h-2zM545,504h1v1h-1zM546,505h1v1h-1zM547,506h1v4h-1zM548,510h1v5h-1zM549,515h1v5h-1zM550,520h1v4h-1zM551,524h1v4h-1zM552,528h1v3h-1zM553,531h1v3h-1zM554,534h1v3h-1zM555,537h1v3h-1zM556,540h1v2h-1zM557,542h1v4h-1zM558,546h1v2h-1zM559,548h1v3h-1zM560,551h1v1h-1zM561,552h2v1h-2zM563,551h1v1h-1zM564,548h1v3h-1zM565,546h1v2h-1zM566,543h1v3h-1zM567,540h1v3h-1zM568,537h1v3h-1zM569,535h1v2h-1zM570,534h3v1h-3zM573,535h2v1h-2zM575,536h2v1h-2zM577,537h2v1h-2zM579,536h1v1h-1zM580,534h1v2h-1zM581,533h1v1h-1zM582,530h1v3h-1zM583,528h1v2h-1zM584,526h1v2h-1zM585,524h1v2h-1zM586,523h1v1h-1zM587,524h1v1h-1zM588,525h1v3h-1zM589,528h1v3h-1zM590,531h1v3h-1zM591,534h1v3h-1zM592,537h1v4h-1zM593,541h1v3h-1zM594,544h1v3h-1zM595,547h1v1h-1zM596,548h2v1h-2zM598,547h1v1h-1zM599,545h1v2h-1zM600,543h1v2h-1zM601,541h1v2h-1zM602,540h1v1h-1zM603,539h7v1h-7zM610,540h8v1h-8zM618,541h1v1h-1zM619,542h1v2h-1zM620,544h1v3h-1zM621,547h1v4h-1zM622,551h1v5h-1zM623,556h1v5h-1zM624,561h1v4h-1zM625,565h1v4h-1zM626,569h1v4h-1zM627,573h1v3h-1zM628,576h1v1h-1zM629,577h1v2h-1zM630,578h5v1h-5zM635,577h1v1h-1zM636,576h1v1h-1zM637,575h1v1h-1zM638,574h1v1h-1zM639,572h1v2h-1zM640,571h1v1h-1zM641,568h1v3h-1zM642,564h1v4h-1zM643,560h1v4h-1zM644,555h1v5h-1zM645,550h1v5h-1zM646,546h1v4h-1zM647,543h1v3h-1zM648,541h1v2h-1zM649,539h1v2h-1zM650,538h1v1h-1zM651,537h1v1h-1zM652,536h1v1h-1zM653,535h3v1h-3zM656,534h5v1h-5zM661,535h1v1h-1zM662,536h1v2h-1zM663,538h1v2h-1zM664,540h1v3h-1zM665,543h1v3h-1zM666,546h1v3h-1zM667,549h1v3h-1zM668,552h1v2h-1zM669,554h1v2h-1zM670,556h1v2h-1zM671,558h2v1h-2zM673,557h1v1h-1zM674,555h1v2h-1zM675,553h1v2h-1zM676,550h1v3h-1zM677,548h1v2h-1zM678,546h1v2h-1zM679,544h1v2h-1zM680,542h1v2h-1zM681,540h1v2h-1zM682,540h1v1h-1zM683,539h3v1h-3zM686,538h1v1h-1zM687,539h4v1h-4zM691,540h1v1h-1zM692,539h2v1h-2zM694,538h2v1h-2zM696,539h4v1h-4zM700,538h4v1h-4zM704,539h1v1h-1zM705,540h1v1h-1zM706,541h1v1h-1zM707,542h3v1h-3zM710,541h1v1h-1zM711,540h1v1h-1zM712,537h1v3h-1zM713,534h1v3h-1zM714,532h1v2h-1zM715,529h1v3h-1zM716,527h1v2h-1zM717,526h1v1h-1zM718,525h1v1h-1zM719,524h1v1h-1zM720,525h1v1h-1zM721,526h1v1h-1zM722,527h1v1h-1zM723,528h1v1h-1zM724,529h2v1h-2zM726,530h1v1h-1zM727,531h1v1h-1zM728,532h1v1h-1zM729,533h1v1h-1zM730,534h1v1h-1zM731,535h1v1h-1zM732,536h1v2h-1zM733,538h1v1h-1zM734,539h1v2h-1zM735,541h3v1h-3zM738,540h1v1h-1zM739,539h2v1h-2zM741,538h3v1h-3zM744,537h2v1h-2zM746,536h1v1h-1zM747,535h1v1h-1zM748,533h1v2h-1zM749,531h1v2h-1zM750,529h1v2h-1zM751,527h1v2h-1zM752,526h1v1h-1zM753,525h7v1h-7zM760,526h3v1h-3zM763,525h1v1h-1zM764,524h1v1h-1zM765,523h1v1h-1zM766,521h1v2h-1zM767,520h1v1h-1zM768,519h1v1h-1zM769,517h1v2h-1zM770,516h1v1h-1zM771,515h1v1h-1zM772,514h1v1h-1zM773,513h1v1h-1zM774,512h2v1h-2zM776,513h1v1h-1zM777,514h1v1h-1zM778,515h1v1h-1zM779,516h1v1h-1zM780,517h1v1h-1zM781,518h1v1h-1zM782,519h1v2h-1zM783,521h1v2h-1zM784,523h1v2h-1zM785,525h2v1h-2zM787,524h1v1h-1zM788,523h1v1h-1zM789,521h1v2h-1zM790,519h1v2h-1zM791,517h1v2h-1zM792,515h1v2h-1zM793,514h4v1h-4zM797,515h1v1h-1zM798,516h2v1h-2zM800,517h1v1h-1zM801,518h1v1h-1zM802,519h1v1h-1zM803,520h1v2h-1zM804,522h1v2h-1zM805,524h1v2h-1zM806,526h1v2h-1zM807,528h1v2h-1zM808,530h1v3h-1zM809,533h1v2h-1zM810,535h1v3h-1zM811,538h1v2h-1zM812,540h1v2h-1zM813,542h1v2h-1zM814,544h1v2h-1zM815,546h1v1h-1zM816,547h1v1h-1zM817,548h1v1h-1zM818,549h2v1h-2zM820,550h1v2h-1zM821,552h1v1h-1zM822,553h1v1h-1zM823,554h1v2h-1zM824,556h1v1h-1zM825,557h2v1h-2zM827,558h2v1h-2zM829,559h5v1h-5zM834,558h2v1h-2zM836,557h1v1h-1zM837,556h1v1h-1zM838,554h1v2h-1zM839,553h3v1h-3zM842,554h1v1h-1zM843,555h1v1h-1zM844,556h1v1h-1zM845,557h1v1h-1zM846,558h1v1h-1zM847,559h1v2h-1zM848,561h1v1h-1zM849,562h1v2h-1zM850,563h3v1h-3zM853,562h1v1h-1zM854,561h1v1h-1zM855,560h1v1h-1zM856,559h1v1h-1zM857,557h1v2h-1zM858,557h1v1h-1zM859,558h1v1h-1zM860,559h1v1h-1zM861,560h1v2h-1zM862,562h1v3h-1zM863,565h1v2h-1zM864,567h1v2h-1zM865,569h1v2h-1zM866,571h1v1h-1zM867,572h3v1h-3zM870,571h2v1h-2zM872,570h1v1h-1zM873,569h1v1h-1zM874,568h1v1h-1zM875,566h1v2h-1zM876,564h1v2h-1zM877,562h1v2h-1zM878,560h1v2h-1zM879,558h1v2h-1zM880,555h1v3h-1zM881,553h1v2h-1zM882,550h1v3h-1zM883,548h1v2h-1zM884,545h1v3h-1zM885,542h1v3h-1zM886,540h1v2h-1zM887,537h1v3h-1zM888,535h1v2h-1zM889,532h1v3h-1zM890,530h1v2h-1zM891,528h1v2h-1zM892,525h1v3h-1zM893,524h1v1h-1zM894,523h1v1h-1zM895,521h1v2h-1zM896,520h1v1h-1zM897,519h1v1h-1zM898,518h3v1h-3zM901,519h1v1h-1zM902,520h1v1h-1zM903,521h1v1h-1zM904,522h1v1h-1zM905,523h2v1h-2zM907,524h1v1h-1zM908,525h1v1h-1zM909,526h6v1h-6zM915,527h1v1h-1zM916,528h4v1h-4zM920,529h1v1h-1zM921,530h1v1h-1zM922,531h1v1h-1zM923,532h1v1h-1zM924,533h1v1h-1zM925,534h1v1h-1zM926,535h1v1h-1zM927,536h1v1h-1zM928,537h1v1h-1zM929,538h2v1h-2zM931,539h1v1h-1zM932,540h1v1h-1zM933,541h1v1h-1zM934,542h1v1h-1zM935,543h4v1h-4zM939,542h1v1h-1zM940,541h1v1h-1zM941,540h1v1h-1zM942,538h1v2h-1zM943,537h1v1h-1zM944,535h1v2h-1zM945,534h2v1h-2zM947,535h1v1h-1zM948,536h1v1h-1zM949,537h1v1h-1zM950,538h1v1h-1zM951,539h1v2h-1zM952,540h1v1h-1zM953,541h2v1h-2zM955,542h2v1h-2zM957,543h2v1h-2zM959,544h3v1h-3zM962,545h2v1h-2zM964,546h3v1h-3zM967,544h1v2h-1zM968,542h1v2h-1zM969,541h1v1h-1zM970,539h1v2h-1zM971,538h4v1h-4zM975,539h1v1h-1zM976,540h1v1h-1zM977,541h2v1h-2zM979,542h2v1h-2zM981,543h1v2h-1zM982,545h1v1h-1zM983,546h1v1h-1zM984,547h1v2h-1zM985,549h1v1h-1zM986,550h1v2h-1zM987,552h1v1h-1zM988,553h2v1h-2zM990,554h7v1h-7zM997,553h1v1h-1zM998,552h1v1h-1zM999,550h1v2h-1zM1000,547h1v3h-1zM1001,544h1v3h-1zM1002,542h1v2h-1zM1003,540h1v2h-1zM1004,539h2v1h-2zM1006,538h3v1h-3zM1009,539h1v1h-1zM1010,540h2v1h-2zM1012,541h1v1h-1zM1013,540h1v1h-1zM1014,539h2v1h-2zM1016,538h2v1h-2zM1018,539h1v1h-1zM1019,540h1v1h-1zM1020,541h1v1h-1zM1021,542h1v2h-1zM1022,544h1v2h-1zM1023,546h1v2h-1zM1024,548h1v1h-1zM1025,549h1v1h-1zM1026,550h1v1h-1zM1027,549h1v1h-1zM1028,547h1v2h-1zM1029,546h1v1h-1zM1030,544h1v2h-1zM1031,542h1v2h-1zM1032,540h1v2h-1zM1033,538h1v2h-1zM1034,537h1v1h-1zM1035,536h2v1h-2zM1037,535h4v1h-4zM1041,536h2v1h-2zM1043,537h1v1h-1zM1044,538h1v1h-1zM1045,539h1v1h-1zM1046,540h1v1h-1zM1047,541h1v2h-1zM1048,543h1v1h-1zM1049,544h3v1h-3zM1052,542h1v2h-1zM1053,539h1v3h-1zM1054,536h1v3h-1zM1055,533h1v3h-1zM1056,529h1v4h-1zM1057,525h1v4h-1zM1058,522h1v3h-1zM1059,519h1v3h-1zM1060,518h1v1h-1zM1061,517h2v1h-2zM1063,518h1v1h-1zM1064,519h1v2h-1zM1065,521h1v2h-1zM1066,523h1v2h-1zM1067,525h1v3h-1zM1068,528h1v2h-1zM1069,530h1v3h-1zM1070,533h1v1h-1zM1071,534h1v2h-1zM1072,536h1v1h-1zM1073,537h1v1h-1zM1074,538h1v1h-1zM1075,539h3v1h-3zM1078,540h1v1h-1zM1079,541h1v1h-1zM1080,542h1v2h-1zM1081,544h1v2h-1zM1082,546h1v1h-1zM1083,547h1v1h-1zM1084,548h1v1h-1zM1085,549h1v1h-1zM1086,550h4v1h-4zM1090,551h1v1h-1zM1091,552h1v1h-1zM1092,553h1v1h-1zM1093,552h1v1h-1zM1094,551h1v1h-1zM1095,550h1v1h-1zM1096,549h1v1h-1zM1097,547h1v2h-1zM1098,546h1v1h-1zM1099,544h1v2h-1zM1100,542h1v2h-1zM1101,540h1v2h-1zM1102,537h1v3h-1zM1103,535h1v2h-1zM1104,534h1v1h-1zM1105,532h1v2h-1zM1106,530h1v2h-1zM1107,529h1v1h-1zM1108,528h1v1h-1zM1109,529h1v1h-1zM1110,530h1v2h-1zM1111,532h1v2h-1zM1112,534h1v3h-1zM1113,537h1v3h-1zM1114,540h1v3h-1zM1115,543h1v2h-1zM1116,545h1v2h-1zM1117,547h1v2h-1zM1118,549h1v2h-1zM1119,551h1v1h-1zM1120,552h1v2h-1zM1121,554h2v1h-2zM1123,555h3v1h-3zM1126,554h2v1h-2zM1128,553h1v1h-1zM1129,552h1v1h-1zM1130,551h1v1h-1zM1131,550h1v1h-1zM1132,549h1v1h-1zM1133,548h1v1h-1zM1134,547h1v1h-1zM1135,546h1v1h-1zM1136,545h2v1h-2z" fill="#00BFFF" stroke="none"/>
<path d="M49,538h1v1h-1zM50,539h2v1h-2zM52,538h1v1h-1zM53,537h1v1h-1zM54,535h1v2h-1zM55,534h1v1h-1zM56,535h1v1h-1zM57,536h1v1h-1zM58,537h1v2h-1zM59,539h1v1h-1zM60,540h1v1h-1zM61,541h1v1h-1zM62,542h1v1h-1zM63,543h4v1h-4zM67,544h1v1h-1zM68,545h3v1h-3zM71,544h4v1h-4zM75,543h2v1h-2zM77,541h1v2h-1zM78,541h1v1h-1zM79,540h4v1h-4zM83,538h1v2h-1zM84,538h2v1h-2zM86,539h1v1h-1zM87,540h1v1h-1zM88,541h2v1h-2zM90,540h1v1h-1zM91,538h1v2h-1zM92,537h1v1h-1zM93,536h1v1h-1zM94,534h1v2h-1zM95,532h1v2h-1zM96,532h3v1h-3zM99,533h2v1h-2zM101,534h5v1h-5zM106,535h1v1h-1zM107,536h1v1h-1zM108,537h1v1h-1zM109,538h1v1h-1zM110,539h1v1h-1zM111,540h5v1h-5zM116,539h1v1h-1zM117,538h1v1h-1zM118,537h2v1h-2zM120,538h2v1h-2zM122,539h1v1h-1zM123,540h1v1h-1zM124,541h1v1h-1zM125,542h1v2h-1zM126,544h1v1h-1zM127,545h3v1h-3zM130,544h1v1h-1zM131,543h1v1h-1zM132,542h7v1h-7zM139,543h2v1h-2zM141,544h1v1h-1zM142,545h1v2h-1zM143,547h1v2h-1zM144,548h3v1h-3zM147,547h1v1h-1zM148,546h1v1h-1zM149,544h1v2h-1zM150,541h1v3h-1zM151,538h1v3h-1zM152,536h1v2h-1zM153,535h1v1h-1zM154,533h1v2h-1zM155,532h2v1h-2zM157,531h1v1h-1zM158,530h1v1h-1zM159,527h1v3h-1zM160,526h2v1h-2zM162,527h2v1h-2zM164,528h2v1h-2zM166,527h1v1h-1zM167,526h1v1h-1zM168,525h3v1h-3zM171,526h1v1h-1zM172,527h1v1h-1zM173,528h1v1h-1zM174,529h1v2h-1zM175,531h1v2h-1zM176,533h1v1h-1zM177,534h4v1h-4zM181,533h1v1h-1zM182,532h1v1h-1zM183,530h1v2h-1zM184,529h1v1h-1zM185,527h1v2h-1zM186,525h1v2h-1zM187,523h1v2h-1zM188,521h1v2h-1zM189,519h1v2h-1zM190,518h3v1h-3zM193,519h1v2h-1zM194,521h1v2h-1zM195,523h1v3h-1zM196,526h1v2h-1zM197,528h1v3h-1zM198,531h1v1h-1zM199,532h1v1h-1zM200,533h2v1h-2zM202,534h1v1h-1zM203,535h1v1h-1zM204,536h2v1h-2zM206,537h5v1h-5zM211,536h1v1h-1zM212,534h1v2h-1zM213,531h1v3h-1zM214,530h1v1h-1zM215,529h2v1h-2zM217,528h1v1h-1zM218,527h1v1h-1zM219,526h2v1h-2zM221,525h2v1h-2zM223,524h2v1h-2zM225,525h1v1h-1zM226,526h1v1h-1zM227,527h1v2h-1zM228,529h1v1h-1zM229,530h1v2h-1zM230,532h1v2h-1zM231,533h2v1h-2zM233,534h4v1h-4zM237,535h1v2h-1zM238,537h1v1h-1zM239,538h5v1h-5zM244,539h3v1h-3zM247,538h1v1h-1zM248,537h1v1h-1zM249,536h1v1h-1zM250,534h1v2h-1zM251,534h1v1h-1zM252,533h1v1h-1zM253,532h1v1h-1zM254,530h1v2h-1zM255,529h1v1h-1zM256,528h2v1h-2zM258,527h4v1h-4zM262,528h1v1h-1zM263,529h4v1h-4zM267,527h1v2h-1zM268,526h1v1h-1zM269,524h1v2h-1zM270,523h1v1h-1zM271,522h4v1h-4zM275,523h1v1h-1zM276,524h1v1h-1zM277,525h1v3h-1zM278,528h1v4h-1zM279,532h1v3h-1zM280,535h1v2h-1zM281,536h6v1h-6zM287,535h2v1h-2zM289,536h1v1h-1zM290,537h1v2h-1zM291,539h1v1h-1zM292,540h3v1h-3zM295,541h1v1h-1zM296,542h1v2h-1zM297,544h1v2h-1zM298,546h1v1h-1zM299,545h1v1h-1zM300,544h1v1h-1zM301,543h4v1h-4zM305,542h1v1h-1zM306,541h1v1h-1zM307,540h1v1h-1zM308,539h1v1h-1zM309,538h1v1h-1zM310,537h1v1h-1zM311,535h1v2h-1zM312,534h1v1h-1zM313,532h1v2h-1zM314,532h1v1h-1zM315,531h2v1h-2zM317,532h3v1h-3zM320,531h2v1h-2zM322,530h1v1h-1zM323,531h1v1h-1zM324,530h1v1h-1zM325,529h1v1h-1zM326,528h1v1h-1zM327,526h1v2h-1zM328,524h1v2h-1zM329,524h1v1h-1zM330,523h2v1h-2zM332,521h1v2h-1zM333,519h1v2h-1zM334,519h1v1h-1zM335,520h4v1h-4zM339,521h1v1h-1zM340,520h1v1h-1zM341,518h1v2h-1zM342,516h1v2h-1zM343,513h1v3h-1zM344,510h1v3h-1zM345,509h1v1h-1zM346,510h1v1h-1zM347,511h1v3h-1zM348,513h2v1h-2zM350,514h1v1h-1zM351,513h5v1h-5zM356,514h1v1h-1zM357,515h1v1h-1zM358,516h1v2h-1zM359,518h1v4h-1zM360,522h1v5h-1zM361,527h1v4h-1zM362,531h1v2h-1zM363,533h1v2h-1zM364,534h1v1h-1zM365,533h1v1h-1zM366,532h3v1h-3zM369,533h1v1h-1zM370,532h1v1h-1zM371,530h1v2h-1zM372,528h1v2h-1zM373,529h1v1h-1zM374,530h1v2h-1zM375,532h3v1h-3zM378,533h1v3h-1zM379,535h3v1h-3zM382,534h1v1h-1zM383,532h1v2h-1zM384,530h1v2h-1zM385,529h1v1h-1zM386,528h1v1h-1zM387,529h1v1h-1zM388,530h2v1h-2zM390,529h3v1h-3zM393,526h1v3h-1zM394,525h2v1h-2zM396,526h1v1h-1zM397,527h1v1h-1zM398,528h1v1h-1zM399,529h1v2h-1zM400,529h1v1h-1zM401,528h3v1h-3zM404,529h1v1h-1zM405,530h1v1h-1zM406,528h1v2h-1zM407,526h1v2h-1zM408,524h1v2h-1zM409,524h2v1h-2zM411,525h2v1h-2zM413,524h2v1h-2zM415,525h1v2h-1zM416,527h1v2h-1zM417,529h1v2h-1zM418,531h2v1h-2zM420,529h1v2h-1zM421,527h1v2h-1zM422,526h1v1h-1zM423,524h1v2h-1zM424,521h1v3h-1zM425,519h1v2h-1zM426,519h2v1h-2zM428,517h1v2h-1zM429,516h1v1h-1zM430,513h1v3h-1zM431,511h1v2h-1zM432,509h1v2h-1zM433,509h1v1h-1zM434,508h1v1h-1zM435,505h1v3h-1zM436,504h1v1h-1zM437,503h1v1h-1zM438,501h1v2h-1zM439,499h1v2h-1zM440,500h1v2h-1zM441,502h1v4h-1zM442,506h1v4h-1zM443,510h1v5h-1zM444,515h1v1h-1zM445,513h1v2h-1zM446,510h1v3h-1zM447,507h1v3h-1zM448,505h1v2h-1zM449,502h1v3h-1zM450,501h1v1h-1zM451,502h1v2h-1zM452,504h1v1h-1zM453,503h1v1h-1zM454,502h4v1h-4zM458,503h1v1h-1zM459,504h4v1h-4zM463,505h1v2h-1zM464,507h1v3h-1zM465,510h1v6h-1zM466,516h1v5h-1zM467,521h1v3h-1zM468,524h1v2h-1zM469,526h1v3h-1zM470,529h1v3h-1zM471,531h1v1h-1zM472,530h1v1h-1zM473,528h1v2h-1zM474,529h1v1h-1zM475,530h1v2h-1zM476,532h1v1h-1zM477,531h1v1h-1zM478,530h1v1h-1zM479,527h1v3h-1zM480,526h2v1h-2zM482,525h1v1h-1zM483,522h1v3h-1zM484,519h1v3h-1zM485,516h1v3h-1zM486,513h1v3h-1zM487,513h1v1h-1zM488,514h1v2h-1zM489,515h3v1h-3zM492,516h1v3h-1zM493,519h1v5h-1zM494,524h1v1h-1zM495,523h2v1h-2zM497,524h1v1h-1zM498,525h1v1h-1zM499,526h1v5h-1zM500,531h1v6h-1zM501,537h1v5h-1zM502,542h1v1h-1zM503,540h1v2h-1zM504,538h1v2h-1zM505,538h1v1h-1zM506,537h1v1h-1zM507,538h1v1h-1zM508,539h1v3h-1zM509,540h3v1h-3zM512,541h1v1h-1zM513,542h1v4h-1zM514,546h1v1h-1zM515,544h1v2h-1zM516,543h1v1h-1zM517,542h1v1h-1zM518,539h1v3h-1zM519,537h1v2h-1zM520,532h1v5h-1zM521,528h1v4h-1zM522,525h1v3h-1zM523,520h1v5h-1zM524,519h1v1h-1zM525,518h2v1h-2zM527,519h1v2h-1zM528,520h2v1h-2zM530,521h1v3h-1zM531,524h1v1h-1zM532,525h2v1h-2zM534,524h1v1h-1zM535,523h1v1h-1zM536,520h1v3h-1zM537,515h1v5h-1zM538,507h1v8h-1zM539,501h1v6h-1zM540,497h1v4h-1zM541,495h1v2h-1zM542,496h1v1h-1zM543,497h1v4h-1zM544,501h1v4h-1zM545,505h1v1h-1zM546,506h1v5h-1zM547,511h1v12h-1zM548,523h1v9h-1zM549,532h1v5h-1zM550,537h1v2h-1zM551,539h1v1h-1zM552,540h1v1h-1zM553,541h1v3h-1zM554,544h1v3h-1zM555,547h1v2h-1zM556,549h1v2h-1zM557,551h1v5h-1zM558,556h1v2h-1zM559,557h2v1h-2zM561,556h1v1h-1zM562,550h1v6h-1zM563,545h1v5h-1zM564,541h1v4h-1zM565,536h1v5h-1zM566,532h1v4h-1zM567,530h1v2h-1zM568,529h2v1h-2zM570,530h1v1h-1zM571,531h1v2h-1zM572,533h1v3h-1zM573,536h1v2h-1zM574,537h2v1h-2zM576,538h1v2h-1zM577,538h1v1h-1zM578,536h1v2h-1zM579,533h1v3h-1zM580,530h1v3h-1zM581,526h1v4h-1zM582,523h1v3h-1zM583,520h1v3h-1zM584,518h1v2h-1zM585,518h1v1h-1zM586,519h1v4h-1zM587,523h1v6h-1zM588,529h1v7h-1zM589,536h1v5h-1zM590,541h1v4h-1zM591,545h1v3h-1zM592,548h1v4h-1zM593,552h1v4h-1zM594,555h1v1h-1zM595,552h1v3h-1zM596,550h1v2h-1zM597,547h1v3h-1zM598,543h1v4h-1zM599,538h1v5h-1zM600,535h1v3h-1zM601,535h1v1h-1zM602,536h1v1h-1zM603,537h1v1h-1zM604,538h1v1h-1zM605,539h1v1h-1zM606,540h1v1h-1zM607,539h2v1h-2zM609,540h1v1h-1zM610,541h2v1h-2zM612,540h1v1h-1zM613,539h3v1h-3zM616,540h1v2h-1zM617,542h1v1h-1zM618,543h1v3h-1zM619,546h1v4h-1zM620,550h1v9h-1zM621,559h1v6h-1zM622,565h1v6h-1zM623,571h1v6h-1zM624,577h1v4h-1zM625,581h1v2h-1zM626,583h1v1h-1zM627,584h1v1h-1zM628,582h1v2h-1zM629,582h1v1h-1zM630,580h1v2h-1zM631,578h1v2h-1zM632,578h2v1h-2zM634,577h1v1h-1zM635,575h1v2h-1zM636,573h1v2h-1zM637,570h1v3h-1zM638,570h1v1h-1zM639,567h1v3h-1zM640,566h1v1h-1zM641,559h1v7h-1zM642,552h1v7h-1zM643,544h1v8h-1zM644,538h1v6h-1zM645,535h1v3h-1zM646,533h1v2h-1zM647,532h1v1h-1zM648,533h1v1h-1zM649,534h3v1h-3zM652,533h1v1h-1zM653,534h2v1h-2zM655,533h1v1h-1zM656,532h1v1h-1zM657,533h2v1h-2zM659,534h1v1h-1zM660,535h1v2h-1zM661,537h1v3h-1zM662,540h1v4h-1zM663,544h1v5h-1zM664,549h1v5h-1zM665,554h1v3h-1zM666,557h1v2h-1zM667,559h1v1h-1zM668,560h1v1h-1zM669,561h1v2h-1zM670,562h1v1h-1zM671,561h1v1h-1zM672,558h1v3h-1zM673,553h1v5h-1zM674,548h1v5h-1zM675,545h1v3h-1zM676,543h1v2h-1zM677,540h1v3h-1zM678,538h1v2h-1zM679,537h1v1h-1zM680,536h2v1h-2zM682,537h1v1h-1zM683,538h4v1h-4zM687,539h2v1h-2zM689,540h1v1h-1zM690,541h2v1h-2zM692,537h1v4h-1zM693,536h1v1h-1zM694,537h1v1h-1zM695,538h1v2h-1zM696,539h3v1h-3zM699,538h1v1h-1zM700,537h1v1h-1zM701,536h1v1h-1zM702,537h1v1h-1zM703,538h1v2h-1zM704,540h1v3h-1zM705,543h1v3h-1zM706,545h1v1h-1zM707,544h1v1h-1zM708,543h1v1h-1zM709,541h1v2h-1zM710,538h1v3h-1zM711,534h1v4h-1zM712,529h1v5h-1zM713,525h1v4h-1zM714,523h1v2h-1zM715,521h1v2h-1zM716,521h1v1h-1zM717,520h1v1h-1zM718,521h1v1h-1zM719,522h1v3h-1zM720,525h1v3h-1zM721,528h1v2h-1zM722,530h1v2h-1zM723,532h2v1h-2zM725,531h1v1h-1zM726,532h1v1h-1zM727,533h1v2h-1zM728,535h1v2h-1zM729,537h1v1h-1zM730,538h1v1h-1zM731,539h1v1h-1zM732,540h1v2h-1zM733,542h1v3h-1zM734,545h2v1h-2zM736,543h1v2h-1zM737,540h1v3h-1zM738,537h1v3h-1zM739,536h2v1h-2zM741,537h3v1h-3zM744,536h1v1h-1zM745,534h1v2h-1zM746,533h1v1h-1zM747,531h1v2h-1zM748,527h1v4h-1zM749,523h1v4h-1zM750,521h1v2h-1zM751,522h1v1h-1zM752,523h2v1h-2zM754,524h3v1h-3zM757,525h1v1h-1zM758,526h4v1h-4zM762,525h1v1h-1zM763,523h1v2h-1zM764,520h1v3h-1zM765,518h1v2h-1zM766,517h1v1h-1zM767,515h1v2h-1zM768,514h1v1h-1zM769,513h1v1h-1zM770,511h1v2h-1zM771,510h4v1h-4zM775,511h1v2h-1zM776,513h1v3h-1zM777,516h1v2h-1zM778,518h1v1h-1zM779,519h1v1h-1zM780,520h1v1h-1zM781,521h1v3h-1zM782,524h1v3h-1zM783,527h1v3h-1zM784,530h1v1h-1zM785,528h1v2h-1zM786,524h1v4h-1zM787,522h1v2h-1zM788,519h1v3h-1zM789,516h1v3h-1zM790,513h1v3h-1zM791,510h1v3h-1zM792,509h1v1h-1zM793,510h1v1h-1zM794,511h1v2h-1zM795,513h1v2h-1zM796,515h1v2h-1zM797,517h1v1h-1zM798,518h2v1h-2zM800,519h1v1h-1zM801,520h1v1h-1zM802,521h1v3h-1zM803,524h1v4h-1zM804,528h1v4h-1zM805,532h1v2h-1zM806,534h1v1h-1zM807,535h1v2h-1zM808,537h1v3h-1zM809,540h1v4h-1zM810,544h1v2h-1zM811,546h1v1h-1zM812,547h1v2h-1zM813,549h1v3h-1zM814,550h1v1h-1zM815,549h2v1h-2zM817,550h1v2h-1zM818,552h2v1h-2zM820,553h1v2h-1zM821,555h1v3h-1zM822,558h1v2h-1zM823,559h5v1h-5zM828,560h3v1h-3zM831,559h1v1h-1zM832,558h1v1h-1zM833,557h3v1h-3zM836,554h1v3h-1zM837,551h1v3h-1zM838,550h2v1h-2zM840,551h1v2h-1zM841,553h1v2h-1zM842,555h1v2h-1zM843,557h1v2h-1zM844,559h1v2h-1zM845,561h1v2h-1zM846,563h1v1h-1zM847,564h1v2h-1zM848,566h2v1h-2zM850,565h1v1h-1zM851,563h1v2h-1zM852,562h1v1h-1zM853,560h1v2h-1zM854,557h1v3h-1zM855,556h1v1h-1zM856,554h1v2h-1zM857,552h1v2h-1zM858,553h1v5h-1zM859,558h1v4h-1zM860,562h1v3h-1zM861,565h1v4h-1zM862,569h1v5h-1zM863,574h1v2h-1zM864,576h1v1h-1zM865,575h2v1h-2zM867,573h1v2h-1zM868,572h1v1h-1zM869,571h1v1h-1zM870,570h1v1h-1zM871,569h1v1h-1zM872,567h1v2h-1zM873,566h1v1h-1zM874,564h1v2h-1zM875,560h1v4h-1zM876,557h1v3h-1zM877,554h1v3h-1zM878,553h1v1h-1zM879,551h1v2h-1zM880,548h1v3h-1zM881,544h1v4h-1zM882,541h1v3h-1zM883,538h1v3h-1zM884,536h1v2h-1zM885,534h1v2h-1zM886,532h1v2h-1zM887,529h1v3h-1zM888,527h1v2h-1zM889,524h1v3h-1zM890,521h1v3h-1zM891,519h1v2h-1zM892,518h2v1h-2zM894,519h1v1h-1zM895,517h1v2h-1zM896,515h1v2h-1zM897,515h1v1h-1zM898,516h1v1h-1zM899,517h1v1h-1zM900,518h1v2h-1zM901,520h1v3h-1zM902,523h1v2h-1zM903,525h3v1h-3zM906,526h1v1h-1zM907,527h1v1h-1zM908,528h3v1h-3zM911,527h1v1h-1zM912,525h1v2h-1zM913,526h1v1h-1zM914,527h1v2h-1zM915,529h3v1h-3zM918,528h1v1h-1zM919,529h1v1h-1zM920,530h1v2h-1zM921,532h1v1h-1zM922,533h1v2h-1zM923,535h1v1h-1zM924,536h1v1h-1zM925,537h1v2h-1zM926,539h1v2h-1zM927,540h4v1h-4zM931,541h1v1h-1zM932,542h1v2h-1zM933,544h1v1h-1zM934,545h3v1h-3zM937,544h1v1h-1zM938,542h1v2h-1zM939,540h1v2h-1zM940,537h1v3h-1zM941,535h1v2h-1zM942,533h1v2h-1zM943,531h1v2h-1zM944,531h2v1h-2zM946,532h1v3h-1zM947,535h1v3h-1zM948,538h1v2h-1zM949,540h1v2h-1zM950,542h1v2h-1zM951,544h1v1h-1zM952,543h1v1h-1zM953,542h2v1h-2zM955,543h2v1h-2zM957,544h1v1h-1zM958,545h1v2h-1zM959,546h2v1h-2zM961,545h1v1h-1zM962,546h1v1h-1zM963,547h1v2h-1zM964,549h1v1h-1zM965,546h1v3h-1zM966,543h1v3h-1zM967,539h1v4h-1zM968,536h1v3h-1zM969,535h1v1h-1zM970,534h1v1h-1zM971,535h1v1h-1zM972,536h1v2h-1zM973,538h1v2h-1zM974,540h1v2h-1zM975,542h3v1h-3zM978,543h1v1h-1zM979,544h1v1h-1zM980,545h1v1h-1zM981,546h1v2h-1zM982,548h1v2h-1zM983,550h1v2h-1zM984,552h1v2h-1zM985,554h1v2h-1zM986,556h2v1h-2zM988,555h4v1h-4zM992,554h1v1h-1zM993,553h3v1h-3zM996,554h1v1h-1zM997,552h1v2h-1zM998,547h1v5h-1zM999,542h1v5h-1zM1000,538h1v4h-1zM1001,534h1v4h-1zM1002,533h1v1h-1zM1003,534h1v1h-1zM1004,535h1v2h-1zM1005,537h2v1h-2zM1007,538h1v1h-1zM1008,539h1v1h-1zM1009,540h1v2h-1zM1010,542h2v1h-2zM1012,541h1v1h-1zM1013,539h1v2h-1zM1014,536h1v3h-1zM1015,536h1v1h-1zM1016,537h1v1h-1zM1017,538h1v2h-1zM1018,540h1v3h-1zM1019,543h1v2h-1zM1020,545h1v2h-1zM1021,547h1v4h-1zM1022,551h1v2h-1zM1023,553h3v1h-3zM1026,550h1v3h-1zM1027,546h1v4h-1zM1028,543h1v3h-1zM1029,541h1v2h-1zM1030,537h1v4h-1zM1031,534h1v3h-1zM1032,533h3v1h-3zM1035,534h1v1h-1zM1036,533h2v1h-2zM1038,534h1v1h-1zM1039,535h1v1h-1zM1040,536h1v2h-1zM1041,537h1v1h-1zM1042,538h1v1h-1zM1043,539h1v1h-1zM1044,540h1v2h-1zM1045,542h1v2h-1zM1046,544h1v2h-1zM1047,546h1v2h-1zM1048,547h2v1h-2zM1050,545h1v2h-1zM1051,541h1v4h-1zM1052,536h1v5h-1zM1053,530h1v6h-1zM1054,525h1v5h-1zM1055,520h1v5h-1zM1056,517h1v3h-1zM1057,513h1v4h-1zM1058,511h1v2h-1zM1059,510h1v1h-1zM1060,511h1v2h-1zM1061,513h1v2h-1zM1062,515h1v3h-1zM1063,518h1v5h-1zM1064,523h1v4h-1zM1065,527h1v3h-1zM1066,530h1v3h-1zM1067,533h1v4h-1zM1068,537h1v2h-1zM1069,539h4v1h-4zM1073,540h1v2h-1zM1074,542h1v2h-1zM1075,542h1v1h-1zM1076,539h1v3h-1zM1077,539h1v1h-1zM1078,540h1v4h-1zM1079,544h1v3h-1zM1080,547h1v4h-1zM1081,551h4v1h-4zM1085,552h2v1h-2zM1087,551h1v1h-1zM1088,550h1v1h-1zM1089,551h1v2h-1zM1090,553h1v2h-1zM1091,555h1v1h-1zM1092,554h1v1h-1zM1093,551h1v3h-1zM1094,548h1v3h-1zM1095,546h1v2h-1zM1096,544h1v2h-1zM1097,542h1v2h-1zM1098,540h1v2h-1zM1099,537h1v3h-1zM1100,535h1v2h-1zM1101,533h1v2h-1zM1102,531h1v2h-1zM1103,528h1v3h-1zM1104,527h1v1h-1zM1105,526h1v1h-1zM1106,525h1v1h-1zM1107,524h1v1h-1zM1108,525h1v3h-1zM1109,528h1v5h-1zM1110,533h1v5h-1zM1111,538h1v4h-1zM1112,542h1v6h-1zM1113,548h1v3h-1zM1114,551h1v1h-1zM1115,552h1v1h-1zM1116,553h1v1h-1zM1117,554h1v1h-1zM1118,555h1v2h-1zM1119,557h4v1h-4zM1123,556h1v1h-1zM1124,555h1v1h-1zM1125,554h2v1h-2zM1127,553h1v1h-1zM1128,551h1v2h-1zM1129,549h1v2h-1zM1130,548h1v1h-1zM1131,546h1v2h-1zM1132,545h1v1h-1zM1133,544h1v1h-1zM1134,543h1v1h-1zM1135,544h1v1h-1zM1136,543h1v1h-1zM1137,542h1v1h-1z" fill="#000080" stroke="none"/>
</g>
<line x1="48.5" y1="537.5" x2="1159.5" y2="537.5" stroke="#000" stroke-width="1" shape-rendering="crispEdges"/>
<rect x="48.5" y="41.5" width="1111.0" height="416.0" fill="none" stroke="#000" stroke-width="1" shape-rendering="crispEdges"/>
<rect x="48.5" y="486.5" width="1111.0" height="103.0" fill="none" stroke="#000" stroke-width="1" shape-rendering="crispEdges"/>
<path d="M46,456.5H51M1157,456.5H1162M46,443.5H51M1157,443.5H1162M46,430.5H51M1157,430.5H1162M46,417.5H51M1157,417.5H1162M43,405.5H54M1154,405.5H1165M46,392.5H51M1157,392.5H1162M46,379.5H51M1157,379.5H1162M46,366.5H51M1157,366.5H1162M46,354.5H51M1157,354.5H1162M43,341.5H54M1154,341.5H1165M46,328.5H51M1157,328.5H1162M46,315.5H51M1157,315.5H1162M46,302.5H51M1157,302.5H1162M46,290.5H51M1157,290.5H1162M43,277.5H54M1154,277.5H1165M46,264.5H51M1157,264.5H1162M46,251.5H51M1157,251.5H1162M46,239.5H51M1157,239.5H1162M46,226.5H51M1157,226.5H1162M43,213.5H54M1154,213.5H1165M46,200.5H51M1157,200.5H1162M46,188.5H51M1157,188.5H1162M46,175.5H51M1157,175.5H1162M46,162.5H51M1157,162.5H1162M43,149.5H54M1154,149.5H1165M46,136.5H51M1157,136.5H1162M46,124.5H51M1157,124.5H1162M46,111.5H51M1157,111.5H1162M46,98.5H51M1157,98.5H1162M43,85.5H54M1154,85.5H1165M46,73.5H51M1157,73.5H1162M46,60.5H51M1157,60.5H1162M46,47.5H51M1157,47.5H1162M48.5,452.5v10M222.5,41.5v5M222.5,452.9v10M222.5,486.5v5M222.5,589.5v-5M395.5,41.5v5M395.5,452.9v10M395.5,486.5v5M395.5,589.5v-5M568.5,41.5v5M568.5,452.9v10M568.5,486.5v5M568.5,589.5v-5M741.5,41.5v5M741.5,452.9v10M741.5,486.5v5M741.5,589.5v-5M915.5,41.5v5M915.5,452.9v10M915.5,486.5v5M915.5,589.5v-5M1088.5,41.5v5M1088.5,452.9v10M1088.5,486.5v5M1088.5,589.5v-5" stroke="#000" stroke-width="1" fill="none" shape-rendering="crispEdges"/>
<g font-family="Liberation Sans, sans-serif" font-size="11px" fill="#000">
<text x="36.4" y="87.9" text-anchor="end">400</text>
<text x="1179.5" y="87.9">400</text>
<text x="36.4" y="151.9" text-anchor="end">350</text>
<text x="1179.5" y="151.9">350</text>
<text x="36.4" y="215.9" text-anchor="end">300</text>
<text x="1179.5" y="215.9">300</text>
<text x="36.4" y="279.9" text-anchor="end">250</text>
<text x="1179.5" y="279.9">250</text>
<text x="36.4" y="343.9" text-anchor="end">200</text>
<text x="1179.5" y="343.9">200</text>
<text x="36.4" y="407.9" text-anchor="end">150</text>
<text x="1179.5" y="407.9">150</text>
<text x="48.1" y="477" text-anchor="middle">mai-2020</text>
<text x="222.1" y="477" text-anchor="middle">mars-2021</text>
<text x="395.1" y="477" text-anchor="middle">déc.-2021</text>
<text x="568.1" y="477" text-anchor="middle">oct.-2022</text>
<text x="741.1" y="477" text-anchor="middle">juil.-2023</text>
<text x="915.1" y="477" text-anchor="middle">mai-2024</text>
<text x="1088.1" y="477" text-anchor="middle">févr.-2025</text>
</g>
<radialGradient id="mg" cx="0.35" cy="0.3" r="0.8"><stop offset="0" stop-color="#D020D0"/><stop offset="1" stop-color="#A008A8"/></radialGradient>
<path d="M19.5,605V620" stroke="#000" stroke-width="1.3"/><circle cx="19.5" cy="612.2" r="3.4" fill="url(#mg)"/>
<path d="M35,612.3H50" stroke="#000" stroke-width="1.3"/><circle cx="42.4" cy="612.2" r="3.4" fill="url(#mg)"/>
<path d="M61.5,602V621" stroke="#A0A0A0" stroke-width="1"/>
<path d="M284.5,602V621" stroke="#A0A0A0" stroke-width="1"/>
<path d="M369.5,602V621" stroke="#A0A0A0" stroke-width="1"/>
<g stroke="#000" stroke-width="1.1" fill="none">
<path d="M81.5,605V620"/>
<path d="M97,611.5H112"/>
<path d="M122.2,607L132.8,617.7"/>
<path d="M145.2,617.7L154.5,608.6"/>
<path d="M167.2,615.6L177.9,605.2M170.2,618.9L180.9,608.2"/>
<path d="M192.8,618.9L204,608.2L203.3,607.3"/>
<path d="M189.1,613.8L203.5,607.3" stroke-dasharray="2 1"/>
<rect x="213.5" y="608.4" width="12.4" height="8.9"/>
<ellipse cx="242.4" cy="612.8" rx="6.2" ry="4.7"/>
</g>
<path d="M156.4,606.6L151.8,607.6L155.6,611.4Z" fill="#000"/>
<text x="257.6" y="617.6" font-family="Liberation Serif, serif" font-weight="bold" font-style="italic" font-size="15.5px" textLength="15" lengthAdjust="spacingAndGlyphs" fill="#000">Aa</text>
<path d="M299.6,610.8h3.4v-3.4h2.2v3.4h3.4v2.2h-3.4v3.4h-2.2v-3.4h-3.4z" fill="#000"/>
<path d="M304.1,604.6l3.3,3.5h-6.6zM304.1,619.1999999999999l3.3,-3.5h-6.6zM296.8,611.9l3.5,-3.3v6.6zM311.40000000000003,611.9l-3.5,-3.3v6.6z" fill="#000"/>
<path d="M320.5,605.2V619.4H334" stroke="#5A6A9A" stroke-width="1.2" fill="none"/>
<path d="M322.1,607.4H325.4L326.1,617" stroke="#FF3A8A" stroke-width="1.2" fill="none"/>
<path d="M327.4,616.4L334.4,609.8" stroke="#111" stroke-width="2" fill="none"/>
<circle cx="326.4" cy="617.3" r="0.8" fill="#E08020"/>
<clipPath id="er"><rect x="343.5" y="608.9" width="14.6" height="7" rx="2.2"/></clipPath>
<g clip-path="url(#er)"><rect x="343" y="608" width="9" height="9" fill="#FF7852"/><rect x="352" y="608" width="7" height="9" fill="#6496DC"/></g>
<text x="381.7" y="618.9" font-family="Liberation Serif, serif" font-size="20.7px" fill="#000">A</text>
<rect x="403.2" y="606" width="11.8" height="11.8" fill="#4B0082"/>
<path d="M423,606.3H438" stroke="#000" stroke-width="1"/><rect x="423" y="610" width="15" height="2.4" fill="#000"/><rect x="423" y="615.2" width="15" height="3.5" fill="#000"/>
<text x="440.6" y="615.7" font-family="Liberation Sans, sans-serif" font-size="12px" fill="#000">2</text>
<path d="M453,611h5.6l-2.8,3.3z" fill="#000"/>
<path d="M468,611.5H483" stroke="#000" stroke-width="1.2"/>
<text x="486.3" y="615.7" font-family="Liberation Sans, sans-serif" font-size="11.6px" fill="#000">Plein</text>
<path d="M517.7,611h5.6l-2.8,3.3z" fill="#000"/>
</svg>
<div id="title">Equinor Asa  (EUR)</div>
<div id="combo"><span>MME</span><svg width="14" height="8" style="position:absolute;left:123px;top:8px"><path d="M2.2,1.8L6.1,5.8L10,1.8" fill="none" stroke="#333" stroke-width="1.1"/></svg></div>
<div class="spin" style="left:514px"><div class="val" style="color:#B5652B">12</div><div class="btn" style="top:-1px;height:11px"></div><div class="btn" style="top:11.2px;height:7.2px"></div><div class="bar"></div><svg width="14" height="20" style="position:absolute;left:47px;top:0"><path d="M3.9,7.9h5.4l-2.7,-3.1zM3.9,13h5.4l-2.7,3.4z" fill="#000"/></svg></div>
<div class="spin" style="left:581px"><div class="val" style="color:#4A86C8">26</div><div class="btn" style="top:-1px;height:11px"></div><div class="btn" style="top:11.2px;height:7.2px"></div><div class="bar"></div><svg width="14" height="20" style="position:absolute;left:47px;top:0"><path d="M3.9,7.9h5.4l-2.7,-3.1zM3.9,13h5.4l-2.7,3.4z" fill="#000"/></svg></div>
<div class="spin" style="left:647px"><div class="val" style="color:#E0204A">0</div><div class="btn" style="top:-1px;height:11px"></div><div class="btn" style="top:11.2px;height:7.2px"></div><div class="bar"></div><svg width="14" height="20" style="position:absolute;left:47px;top:0"><path d="M3.9,7.9h5.4l-2.7,-3.1zM3.9,13h5.4l-2.7,3.4z" fill="#000"/></svg></div>
<div id="grid">
<div class="r h"><div class="c rh"></div><div class="c d"><span>Date</span></div><div class="c q hc"><span>Cotation</span></div><div class="c g hc"><span>Croissance</span></div><div class="c v hc"><span>Variation</span></div></div>
<div class="r o"><div class="c rh"></div><div class="c d"><span>26/05/2025</span></div><div class="c q"><span>244,30</span></div><div class="c g gr"><span>+1,88%</span></div><div class="c v gr"><span>4,50</span></div></div>
<div class="r e"><div class="c rh"></div><div class="c d"><span>23/05/2025</span></div><div class="c q"><span>239,80</span></div><div class="c g gr"><span>+0,88%</span></div><div class="c v gr"><span>2,10</span></div></div>
<div class="r o"><div class="c rh"></div><div class="c d"><span>22/05/2025</span></div><div class="c q"><span>237,70</span></div><div class="c g rd"><span>-2,86%</span></div><div class="c v rd"><span>-7,00</span></div></div>
<div class="r e"><div class="c rh"></div><div class="c d"><span>21/05/2025</span></div><div class="c q"><span>244,70</span></div><div class="c g gr"><span>+0,41%</span></div><div class="c v gr"><span>1,00</span></div></div>
<div class="r o"><div class="c rh"></div><div class="c d"><span>20/05/2025</span></div><div class="c q"><span>243,70</span></div><div class="c g gr"><span>+1,16%</span></div><div class="c v gr"><span>2,80</span></div></div>
<div class="r e"><div class="c rh"></div><div class="c d"><span>19/05/2025</span></div><div class="c q"><span>240,90</span></div><div class="c g rd"><span>-1,63%</span></div><div class="c v rd"><span>-4,00</span></div></div>
<div class="r o"><div class="c rh"></div><div class="c d"><span>16/05/2025</span></div><div class="c q"><span>244,90</span></div><div class="c g gr"><span>+1,58%</span></div><div class="c v gr"><span>3,80</span></div></div>
<div class="r e"><div class="c rh"></div><div class="c d"><span>15/05/2025</span></div><div class="c q"><span>241,10</span></div><div class="c g rd"><span>-0,41%</span></div><div class="c v rd"><span>-1,00</span></div></div>
<div class="r o"><div class="c rh"></div><div class="c d"><span>14/05/2025</span></div><div class="c q"><span>242,10</span></div><div class="c g rd"><span>-0,70%</span></div><div class="c v rd"><span>-1,70</span></div></div>
<div class="r e"><div class="c rh"></div><div class="c d"><span>13/05/2025</span></div><div class="c q"><span>243,80</span></div><div class="c g rd"><span>-0,08%</span></div><div class="c v rd"><span>-0,20</span></div></div>
<div class="r o"><div class="c rh"></div><div class="c d"><span>12/05/2025</span></div><div class="c q"><span>244,00</span></div><div class="c g gr"><span>+2,43%</span></div><div class="c v gr"><span>5,80</span></div></div>
<div class="r e"><div class="c rh"></div><div class="c d"><span>09/05/2025</span></div><div class="c q"><span>238,20</span></div><div class="c g gr"><span>+0,80%</span></div><div class="c v gr"><span>1,90</span></div></div>
<div class="r o"><div class="c rh"></div><div class="c d"><span>08/05/2025</span></div><div class="c q"><span>236,30</span></div><div class="c g rd"><span>-0,04%</span></div><div class="c v rd"><span>-0,10</span></div></div>
<div class="r e"><div class="c rh"></div><div class="c d"><span>07/05/2025</span></div><div class="c q"><span>236,40</span></div><div class="c g rd"><span>-2,56%</span></div><div class="c v rd"><span>-6,20</span></div></div>
<div class="r o"><div class="c rh"></div><div class="c d"><span>06/05/2025</span></div><div class="c q"><span>242,60</span></div><div class="c g gr"><span>+0,54%</span></div><div class="c v gr"><span>1,30</span></div></div>
<div class="r e"><div class="c rh"></div><div class="c d"><span>05/05/2025</span></div><div class="c q"><span>241,30</span></div><div class="c g gr"><span>+0,67%</span></div><div class="c v gr"><span>1,60</span></div></div>
<div class="r o"><div class="c rh"></div><div class="c d"><span>02/05/2025</span></div><div class="c q"><span>239,70</span></div><div class="c g gr"><span>+0,76%</span></div><div class="c v gr"><span>1,80</span></div></div>
<div class="r e"><div class="c rh"></div><div class="c d"><span>30/04/2025</span></div><div class="c q"><span>237,90</span></div><div class="c g rd"><span>-0,42%</span></div><div class="c v rd"><span>-1,00</span></div></div>
<div class="r o"><div class="c rh"></div><div class="c d"><span>29/04/2025</span></div><div class="c q"><span>238,90</span></div><div class="c g gr"><span>+0,13%</span></div><div class="c v gr"><span>0,30</span></div></div>
<div class="r e"><div class="c rh"></div><div class="c d"><span>28/04/2025</span></div><div class="c q"><span>238,60</span></div><div class="c g gr"><span>+0,46%</span></div><div class="c v gr"><span>1,10</span></div></div>
<div class="r o"><div class="c rh"></div><div class="c d"><span>25/04/2025</span></div><div class="c q"><span>237,50</span></div><div class="c g rd"><span>-0,71%</span></div><div class="c v rd"><span>-1,70</span></div></div>
<div class="r e"><div class="c rh"></div><div class="c d"><span>24/04/2025</span></div><div class="c q"><span>239,20</span></div><div class="c g rd"><span>-0,13%</span></div><div class="c v rd"><span>-0,30</span></div></div>
<div class="r o"><div class="c rh"></div><div class="c d"><span>23/04/2025</span></div><div class="c q"><span>239,50</span></div><div class="c g rd"><span>-1,56%</span></div><div class="c v rd"><span>-3,80</span></div></div>
<div class="r e"><div class="c rh"></div><div class="c d"><span>22/04/2025</span></div><div class="c q"><span>243,30</span></div><div class="c g rd"><span>-1,50%</span></div><div class="c v rd"><span>-3,70</span></div></div>
<div class="r o"><div class="c rh"></div><div class="c d"><span>16/04/2025</span></div><div class="c q"><span>247,00</span></div><div class="c g rd"><span>-0,20%</span></div><div class="c v rd"><span>-0,50</span></div></div>
<div class="r e"><div class="c rh"></div><div class="c d"><span>15/04/2025</span></div><div class="c q"><span>247,50</span></div><div class="c g rd"><span>-0,16%</span></div><div class="c v rd"><span>-0,40</span></div></div>
<div class="r o"><div class="c rh"></div><div class="c d"><span>14/04/2025</span></div><div class="c q"><span>247,90</span></div><div class="c g gr"><span>+1,27%</span></div><div class="c v gr"><span>3,10</span></div></div>
</div>
<div id="hsb"></div>
</body></html>
